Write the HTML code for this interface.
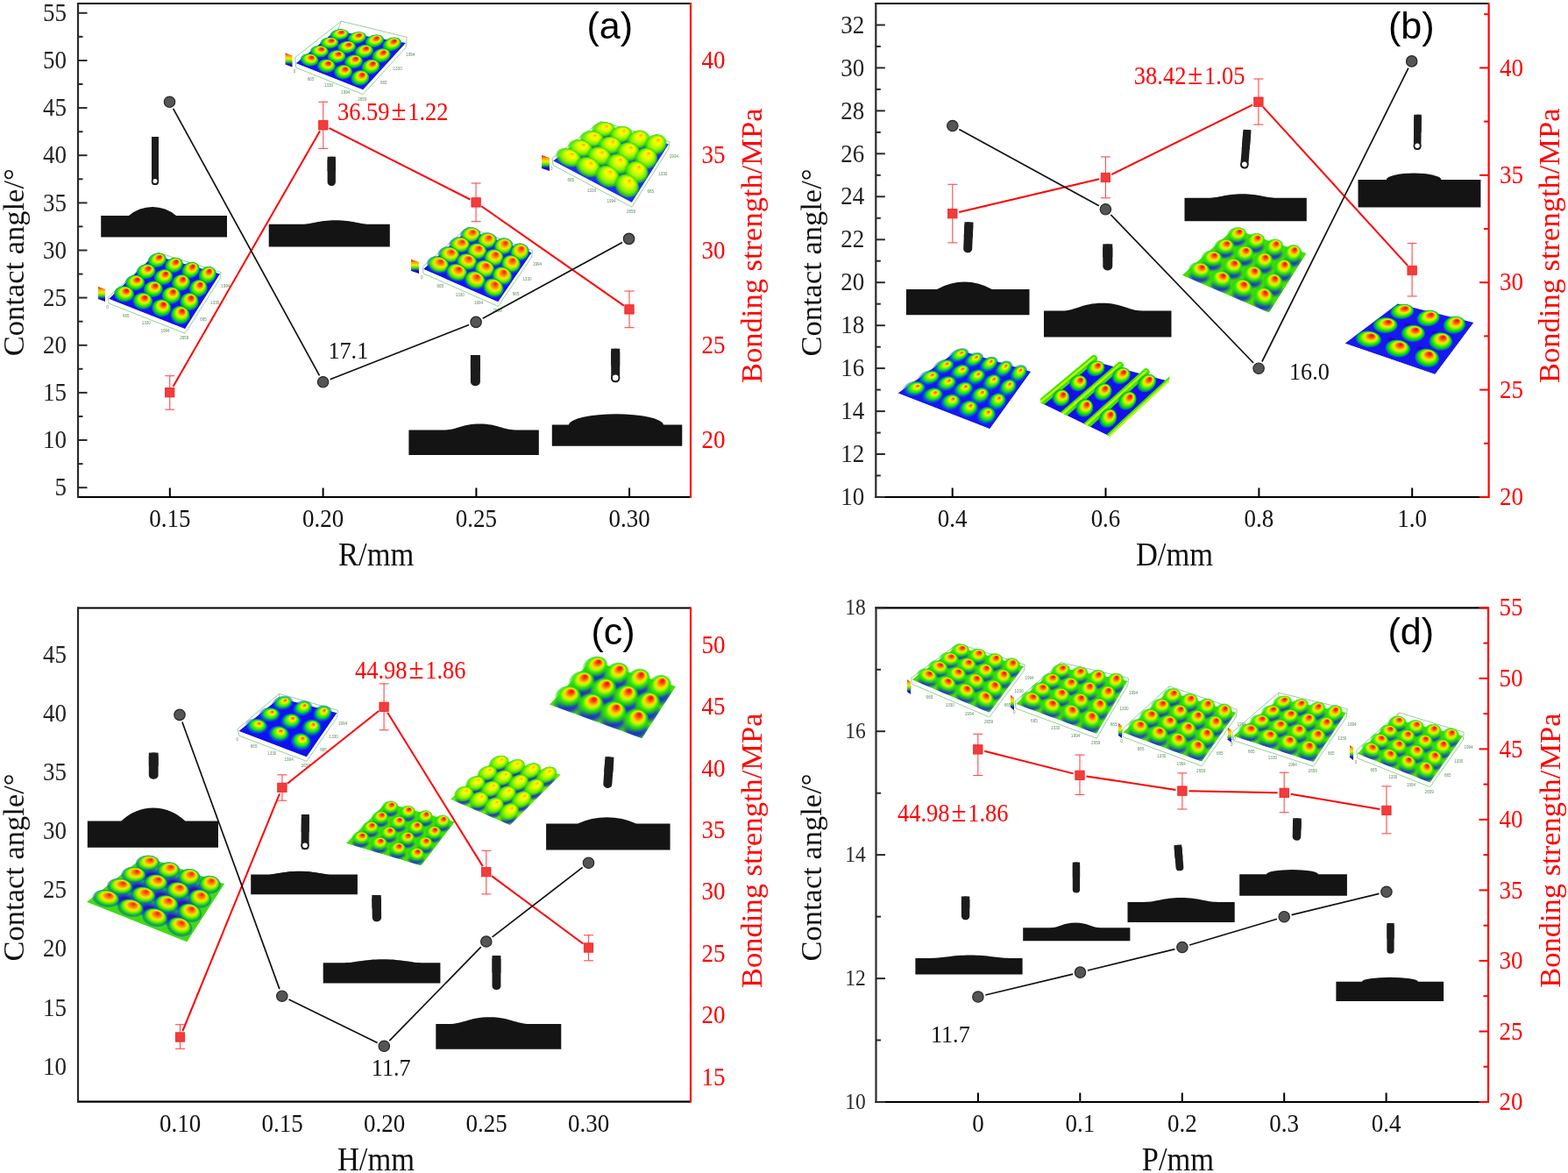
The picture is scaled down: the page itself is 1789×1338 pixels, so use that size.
<!DOCTYPE html>
<html><head><meta charset="utf-8"><title>Contact angle and bonding strength</title>
<style>html,body{margin:0;padding:0;background:#fff;overflow:hidden;}svg{display:block;}</style></head>
<body><svg width="1789" height="1338" viewBox="0 0 1789 1338">
<defs>
<radialGradient id="hR" cx="0.5" cy="0.5" r="0.5" fx="0.5" fy="0.2">
 <stop offset="0" stop-color="#e00a00"/>
 <stop offset="0.19" stop-color="#ff4000"/>
 <stop offset="0.31" stop-color="#ff9000"/>
 <stop offset="0.43" stop-color="#ffe000"/>
 <stop offset="0.54" stop-color="#b0f800"/>
 <stop offset="0.66" stop-color="#48ee00"/>
 <stop offset="0.79" stop-color="#00d410"/>
 <stop offset="0.91" stop-color="#0090a0" stop-opacity="0.7"/>
 <stop offset="1" stop-color="#0020ff" stop-opacity="0"/>
</radialGradient>
<radialGradient id="hY" cx="0.5" cy="0.5" r="0.5" fx="0.5" fy="0.22">
 <stop offset="0" stop-color="#ffa000"/>
 <stop offset="0.14" stop-color="#ffe400"/>
 <stop offset="0.30" stop-color="#f4ff00"/>
 <stop offset="0.50" stop-color="#c0f800"/>
 <stop offset="0.72" stop-color="#68ee00"/>
 <stop offset="0.88" stop-color="#30d800" stop-opacity="0.75"/>
 <stop offset="1" stop-color="#10c800" stop-opacity="0"/>
</radialGradient>
<radialGradient id="hB" cx="0.5" cy="0.5" r="0.5" fx="0.5" fy="0.25">
 <stop offset="0" stop-color="#ff3000"/>
 <stop offset="0.12" stop-color="#ff9a00"/>
 <stop offset="0.26" stop-color="#f8f800"/>
 <stop offset="0.42" stop-color="#70f400"/>
 <stop offset="0.60" stop-color="#00dc30"/>
 <stop offset="0.80" stop-color="#0070d0" stop-opacity="0.6"/>
 <stop offset="1" stop-color="#0000ff" stop-opacity="0"/>
</radialGradient>
<radialGradient id="hG" cx="0.5" cy="0.5" r="0.5" fx="0.5" fy="0.25">
 <stop offset="0" stop-color="#f0ff00"/>
 <stop offset="0.25" stop-color="#b0f800"/>
 <stop offset="0.50" stop-color="#50ee00"/>
 <stop offset="0.75" stop-color="#10d040" stop-opacity="0.7"/>
 <stop offset="1" stop-color="#0000ff" stop-opacity="0"/>
</radialGradient>
<radialGradient id="hO" cx="0.5" cy="0.5" r="0.5" fx="0.5" fy="0.22">
 <stop offset="0" stop-color="#e81800"/>
 <stop offset="0.18" stop-color="#ff5a00"/>
 <stop offset="0.32" stop-color="#ff9c00"/>
 <stop offset="0.46" stop-color="#ffe400"/>
 <stop offset="0.60" stop-color="#90f400"/>
 <stop offset="0.76" stop-color="#20d800"/>
 <stop offset="0.90" stop-color="#0060d0" stop-opacity="0.6"/>
 <stop offset="1" stop-color="#0020ff" stop-opacity="0"/>
</radialGradient>
<radialGradient id="hRg" cx="0.5" cy="0.5" r="0.5" fx="0.5" fy="0.2">
 <stop offset="0" stop-color="#e00a00"/>
 <stop offset="0.16" stop-color="#ff3c00"/>
 <stop offset="0.28" stop-color="#ff8c00"/>
 <stop offset="0.40" stop-color="#ffdc00"/>
 <stop offset="0.52" stop-color="#b8f800"/>
 <stop offset="0.64" stop-color="#48ee00"/>
 <stop offset="0.80" stop-color="#20d810" stop-opacity="0.75"/>
 <stop offset="1" stop-color="#10d010" stop-opacity="0"/>
</radialGradient>
<radialGradient id="vS" cx="0.5" cy="0.5" r="0.5">
 <stop offset="0" stop-color="#1000f0" stop-opacity="0.95"/>
 <stop offset="0.55" stop-color="#1818f0" stop-opacity="0.75"/>
 <stop offset="1" stop-color="#2020f0" stop-opacity="0"/>
</radialGradient>
<radialGradient id="vP" cx="0.5" cy="0.5" r="0.5">
 <stop offset="0" stop-color="#500070" stop-opacity="0.9"/>
 <stop offset="0.3" stop-color="#2000e0" stop-opacity="0.9"/>
 <stop offset="0.65" stop-color="#1020f0" stop-opacity="0.6"/>
 <stop offset="1" stop-color="#0000ff" stop-opacity="0"/>
</radialGradient>
<linearGradient id="cbar" x1="0" y1="0" x2="0" y2="1">
<stop offset="0" stop-color="#e00000"/><stop offset="0.2" stop-color="#ffa000"/><stop offset="0.4" stop-color="#f0f000"/>
<stop offset="0.6" stop-color="#40e000"/><stop offset="0.8" stop-color="#1010f0"/><stop offset="1" stop-color="#300040"/></linearGradient>
<radialGradient id="gHot" cx="0.5" cy="0.5" r="0.5" fx="0.5" fy="0.38">
 <stop offset="0" stop-color="#e00000"/>
 <stop offset="0.14" stop-color="#ff3a00"/>
 <stop offset="0.28" stop-color="#ff9a00"/>
 <stop offset="0.42" stop-color="#ffee00"/>
 <stop offset="0.58" stop-color="#9af000"/>
 <stop offset="0.74" stop-color="#22e020"/>
 <stop offset="0.88" stop-color="#00c890" stop-opacity="0.6"/>
 <stop offset="1" stop-color="#0030ff" stop-opacity="0"/>
</radialGradient>
<radialGradient id="gWarm" cx="0.5" cy="0.5" r="0.5" fx="0.5" fy="0.38">
 <stop offset="0" stop-color="#ff5000"/>
 <stop offset="0.18" stop-color="#ffb000"/>
 <stop offset="0.36" stop-color="#f0f000"/>
 <stop offset="0.56" stop-color="#a0f000"/>
 <stop offset="0.78" stop-color="#40e800"/>
 <stop offset="1" stop-color="#30e000" stop-opacity="0"/>
</radialGradient>
<radialGradient id="gGreen" cx="0.5" cy="0.5" r="0.5" fx="0.5" fy="0.38">
 <stop offset="0" stop-color="#ffe000"/>
 <stop offset="0.3" stop-color="#d0f000"/>
 <stop offset="0.6" stop-color="#70f000"/>
 <stop offset="1" stop-color="#40e000" stop-opacity="0"/>
</radialGradient>
<radialGradient id="gBlueBump" cx="0.5" cy="0.5" r="0.5" fx="0.5" fy="0.38">
 <stop offset="0" stop-color="#ff3000"/>
 <stop offset="0.15" stop-color="#ffa000"/>
 <stop offset="0.32" stop-color="#f0f000"/>
 <stop offset="0.5" stop-color="#60f000"/>
 <stop offset="0.7" stop-color="#10d040" stop-opacity="0.8"/>
 <stop offset="1" stop-color="#1020ff" stop-opacity="0"/>
</radialGradient>
<radialGradient id="gBlueBumpG" cx="0.5" cy="0.5" r="0.5" fx="0.5" fy="0.38">
 <stop offset="0" stop-color="#f0ff00"/>
 <stop offset="0.3" stop-color="#a0f000"/>
 <stop offset="0.6" stop-color="#30e020"/>
 <stop offset="1" stop-color="#1020ff" stop-opacity="0"/>
</radialGradient>
</defs>
<rect width="1789" height="1338" fill="#fff"/>
<line x1="88.0" y1="4.0" x2="788.0" y2="4.0" stroke="#000" stroke-width="2.2"/><line x1="88.0" y1="567.0" x2="788.0" y2="567.0" stroke="#000" stroke-width="2.2"/><line x1="89.0" y1="3.0" x2="89.0" y2="568.0" stroke="#2a2a2a" stroke-width="2.2"/><line x1="788.0" y1="3.0" x2="788.0" y2="568.0" stroke="#ff0000" stroke-width="2.2"/><line x1="89.0" y1="556.2" x2="99.5" y2="556.2" stroke="#2a2a2a" stroke-width="2"/><line x1="89.0" y1="502.0" x2="99.5" y2="502.0" stroke="#2a2a2a" stroke-width="2"/><line x1="89.0" y1="447.9" x2="99.5" y2="447.9" stroke="#2a2a2a" stroke-width="2"/><line x1="89.0" y1="393.8" x2="99.5" y2="393.8" stroke="#2a2a2a" stroke-width="2"/><line x1="89.0" y1="339.6" x2="99.5" y2="339.6" stroke="#2a2a2a" stroke-width="2"/><line x1="89.0" y1="285.5" x2="99.5" y2="285.5" stroke="#2a2a2a" stroke-width="2"/><line x1="89.0" y1="231.4" x2="99.5" y2="231.4" stroke="#2a2a2a" stroke-width="2"/><line x1="89.0" y1="177.2" x2="99.5" y2="177.2" stroke="#2a2a2a" stroke-width="2"/><line x1="89.0" y1="123.1" x2="99.5" y2="123.1" stroke="#2a2a2a" stroke-width="2"/><line x1="89.0" y1="69.0" x2="99.5" y2="69.0" stroke="#2a2a2a" stroke-width="2"/><line x1="89.0" y1="14.8" x2="99.5" y2="14.8" stroke="#2a2a2a" stroke-width="2"/><line x1="89.0" y1="529.1" x2="94.5" y2="529.1" stroke="#2a2a2a" stroke-width="2"/><line x1="89.0" y1="475.0" x2="94.5" y2="475.0" stroke="#2a2a2a" stroke-width="2"/><line x1="89.0" y1="420.8" x2="94.5" y2="420.8" stroke="#2a2a2a" stroke-width="2"/><line x1="89.0" y1="366.7" x2="94.5" y2="366.7" stroke="#2a2a2a" stroke-width="2"/><line x1="89.0" y1="312.6" x2="94.5" y2="312.6" stroke="#2a2a2a" stroke-width="2"/><line x1="89.0" y1="258.4" x2="94.5" y2="258.4" stroke="#2a2a2a" stroke-width="2"/><line x1="89.0" y1="204.3" x2="94.5" y2="204.3" stroke="#2a2a2a" stroke-width="2"/><line x1="89.0" y1="150.2" x2="94.5" y2="150.2" stroke="#2a2a2a" stroke-width="2"/><line x1="89.0" y1="96.0" x2="94.5" y2="96.0" stroke="#2a2a2a" stroke-width="2"/><line x1="89.0" y1="41.9" x2="94.5" y2="41.9" stroke="#2a2a2a" stroke-width="2"/><line x1="193.8" y1="567.0" x2="193.8" y2="556.5" stroke="#000" stroke-width="2"/><line x1="368.6" y1="567.0" x2="368.6" y2="556.5" stroke="#000" stroke-width="2"/><line x1="543.4" y1="567.0" x2="543.4" y2="556.5" stroke="#000" stroke-width="2"/><line x1="718.1" y1="567.0" x2="718.1" y2="556.5" stroke="#000" stroke-width="2"/><text transform="translate(76.0,565.3) scale(1,1.080)" font-family="'Liberation Serif','Times New Roman',serif" font-size="27.0" fill="#222222" text-anchor="end">5</text><text transform="translate(76.0,511.2) scale(1,1.080)" font-family="'Liberation Serif','Times New Roman',serif" font-size="27.0" fill="#222222" text-anchor="end">10</text><text transform="translate(76.0,457.0) scale(1,1.080)" font-family="'Liberation Serif','Times New Roman',serif" font-size="27.0" fill="#222222" text-anchor="end">15</text><text transform="translate(76.0,402.9) scale(1,1.080)" font-family="'Liberation Serif','Times New Roman',serif" font-size="27.0" fill="#222222" text-anchor="end">20</text><text transform="translate(76.0,348.8) scale(1,1.080)" font-family="'Liberation Serif','Times New Roman',serif" font-size="27.0" fill="#222222" text-anchor="end">25</text><text transform="translate(76.0,294.6) scale(1,1.080)" font-family="'Liberation Serif','Times New Roman',serif" font-size="27.0" fill="#222222" text-anchor="end">30</text><text transform="translate(76.0,240.5) scale(1,1.080)" font-family="'Liberation Serif','Times New Roman',serif" font-size="27.0" fill="#222222" text-anchor="end">35</text><text transform="translate(76.0,186.4) scale(1,1.080)" font-family="'Liberation Serif','Times New Roman',serif" font-size="27.0" fill="#222222" text-anchor="end">40</text><text transform="translate(76.0,132.2) scale(1,1.080)" font-family="'Liberation Serif','Times New Roman',serif" font-size="27.0" fill="#222222" text-anchor="end">45</text><text transform="translate(76.0,78.1) scale(1,1.080)" font-family="'Liberation Serif','Times New Roman',serif" font-size="27.0" fill="#222222" text-anchor="end">50</text><text transform="translate(76.0,24.0) scale(1,1.080)" font-family="'Liberation Serif','Times New Roman',serif" font-size="27.0" fill="#222222" text-anchor="end">55</text><text transform="translate(800.5,511.2) scale(1,1.080)" font-family="'Liberation Serif','Times New Roman',serif" font-size="27.0" fill="#ff0000" text-anchor="start">20</text><text transform="translate(800.5,402.9) scale(1,1.080)" font-family="'Liberation Serif','Times New Roman',serif" font-size="27.0" fill="#ff0000" text-anchor="start">25</text><text transform="translate(800.5,294.6) scale(1,1.080)" font-family="'Liberation Serif','Times New Roman',serif" font-size="27.0" fill="#ff0000" text-anchor="start">30</text><text transform="translate(800.5,186.4) scale(1,1.080)" font-family="'Liberation Serif','Times New Roman',serif" font-size="27.0" fill="#ff0000" text-anchor="start">35</text><text transform="translate(800.5,78.1) scale(1,1.080)" font-family="'Liberation Serif','Times New Roman',serif" font-size="27.0" fill="#ff0000" text-anchor="start">40</text><text transform="translate(193.8,601.0) scale(1,1.080)" font-family="'Liberation Serif','Times New Roman',serif" font-size="27.0" fill="#111" text-anchor="middle">0.15</text><text transform="translate(368.6,601.0) scale(1,1.080)" font-family="'Liberation Serif','Times New Roman',serif" font-size="27.0" fill="#111" text-anchor="middle">0.20</text><text transform="translate(543.4,601.0) scale(1,1.080)" font-family="'Liberation Serif','Times New Roman',serif" font-size="27.0" fill="#111" text-anchor="middle">0.25</text><text transform="translate(718.1,601.0) scale(1,1.080)" font-family="'Liberation Serif','Times New Roman',serif" font-size="27.0" fill="#111" text-anchor="middle">0.30</text><text transform="translate(429.2,645.0) scale(1,1.080)" font-family="'Liberation Serif','Times New Roman',serif" font-size="34.5" fill="#111" text-anchor="middle">R/mm</text><text transform="translate(27.0,299.2) rotate(-90)" font-family="'Liberation Serif','Times New Roman',serif" font-size="34.5" fill="#111" text-anchor="middle">Contact angle/°</text><text transform="translate(869.3,280.2) rotate(-90)" font-family="'Liberation Serif','Times New Roman',serif" font-size="34.5" fill="#ff0000" text-anchor="middle">Bonding strength/MPa</text><text transform="translate(669.5,44.0)" font-family="'Liberation Sans',Arial,sans-serif" font-size="43.0" fill="#000" text-anchor="start">(a)</text>
<line x1="998.3" y1="4.0" x2="1698.6" y2="4.0" stroke="#000" stroke-width="2.2"/><line x1="998.3" y1="567.0" x2="1698.6" y2="567.0" stroke="#000" stroke-width="2.2"/><line x1="999.3" y1="3.0" x2="999.3" y2="568.0" stroke="#2a2a2a" stroke-width="2.2"/><line x1="1698.6" y1="3.0" x2="1698.6" y2="568.0" stroke="#ff0000" stroke-width="2.2"/><line x1="999.3" y1="567.0" x2="1009.8" y2="567.0" stroke="#2a2a2a" stroke-width="2"/><line x1="999.3" y1="518.0" x2="1009.8" y2="518.0" stroke="#2a2a2a" stroke-width="2"/><line x1="999.3" y1="469.1" x2="1009.8" y2="469.1" stroke="#2a2a2a" stroke-width="2"/><line x1="999.3" y1="420.1" x2="1009.8" y2="420.1" stroke="#2a2a2a" stroke-width="2"/><line x1="999.3" y1="371.2" x2="1009.8" y2="371.2" stroke="#2a2a2a" stroke-width="2"/><line x1="999.3" y1="322.2" x2="1009.8" y2="322.2" stroke="#2a2a2a" stroke-width="2"/><line x1="999.3" y1="273.3" x2="1009.8" y2="273.3" stroke="#2a2a2a" stroke-width="2"/><line x1="999.3" y1="224.3" x2="1009.8" y2="224.3" stroke="#2a2a2a" stroke-width="2"/><line x1="999.3" y1="175.3" x2="1009.8" y2="175.3" stroke="#2a2a2a" stroke-width="2"/><line x1="999.3" y1="126.4" x2="1009.8" y2="126.4" stroke="#2a2a2a" stroke-width="2"/><line x1="999.3" y1="77.4" x2="1009.8" y2="77.4" stroke="#2a2a2a" stroke-width="2"/><line x1="999.3" y1="28.5" x2="1009.8" y2="28.5" stroke="#2a2a2a" stroke-width="2"/><line x1="999.3" y1="542.5" x2="1004.8" y2="542.5" stroke="#2a2a2a" stroke-width="2"/><line x1="999.3" y1="493.6" x2="1004.8" y2="493.6" stroke="#2a2a2a" stroke-width="2"/><line x1="999.3" y1="444.6" x2="1004.8" y2="444.6" stroke="#2a2a2a" stroke-width="2"/><line x1="999.3" y1="395.7" x2="1004.8" y2="395.7" stroke="#2a2a2a" stroke-width="2"/><line x1="999.3" y1="346.7" x2="1004.8" y2="346.7" stroke="#2a2a2a" stroke-width="2"/><line x1="999.3" y1="297.7" x2="1004.8" y2="297.7" stroke="#2a2a2a" stroke-width="2"/><line x1="999.3" y1="248.8" x2="1004.8" y2="248.8" stroke="#2a2a2a" stroke-width="2"/><line x1="999.3" y1="199.8" x2="1004.8" y2="199.8" stroke="#2a2a2a" stroke-width="2"/><line x1="999.3" y1="150.9" x2="1004.8" y2="150.9" stroke="#2a2a2a" stroke-width="2"/><line x1="999.3" y1="101.9" x2="1004.8" y2="101.9" stroke="#2a2a2a" stroke-width="2"/><line x1="999.3" y1="53.0" x2="1004.8" y2="53.0" stroke="#2a2a2a" stroke-width="2"/><line x1="1698.6" y1="567.0" x2="1688.1" y2="567.0" stroke="#ff0000" stroke-width="2"/><line x1="1698.6" y1="444.6" x2="1688.1" y2="444.6" stroke="#ff0000" stroke-width="2"/><line x1="1698.6" y1="322.2" x2="1688.1" y2="322.2" stroke="#ff0000" stroke-width="2"/><line x1="1698.6" y1="199.8" x2="1688.1" y2="199.8" stroke="#ff0000" stroke-width="2"/><line x1="1698.6" y1="77.4" x2="1688.1" y2="77.4" stroke="#ff0000" stroke-width="2"/><line x1="1698.6" y1="505.8" x2="1693.1" y2="505.8" stroke="#ff0000" stroke-width="2"/><line x1="1698.6" y1="383.4" x2="1693.1" y2="383.4" stroke="#ff0000" stroke-width="2"/><line x1="1698.6" y1="261.0" x2="1693.1" y2="261.0" stroke="#ff0000" stroke-width="2"/><line x1="1698.6" y1="138.6" x2="1693.1" y2="138.6" stroke="#ff0000" stroke-width="2"/><line x1="1698.6" y1="16.2" x2="1693.1" y2="16.2" stroke="#ff0000" stroke-width="2"/><line x1="1086.7" y1="567.0" x2="1086.7" y2="556.5" stroke="#000" stroke-width="2"/><line x1="1261.5" y1="567.0" x2="1261.5" y2="556.5" stroke="#000" stroke-width="2"/><line x1="1436.4" y1="567.0" x2="1436.4" y2="556.5" stroke="#000" stroke-width="2"/><line x1="1611.2" y1="567.0" x2="1611.2" y2="556.5" stroke="#000" stroke-width="2"/><text transform="translate(986.3,576.1) scale(1,1.080)" font-family="'Liberation Serif','Times New Roman',serif" font-size="27.0" fill="#222222" text-anchor="end">10</text><text transform="translate(986.3,527.2) scale(1,1.080)" font-family="'Liberation Serif','Times New Roman',serif" font-size="27.0" fill="#222222" text-anchor="end">12</text><text transform="translate(986.3,478.2) scale(1,1.080)" font-family="'Liberation Serif','Times New Roman',serif" font-size="27.0" fill="#222222" text-anchor="end">14</text><text transform="translate(986.3,429.3) scale(1,1.080)" font-family="'Liberation Serif','Times New Roman',serif" font-size="27.0" fill="#222222" text-anchor="end">16</text><text transform="translate(986.3,380.3) scale(1,1.080)" font-family="'Liberation Serif','Times New Roman',serif" font-size="27.0" fill="#222222" text-anchor="end">18</text><text transform="translate(986.3,331.3) scale(1,1.080)" font-family="'Liberation Serif','Times New Roman',serif" font-size="27.0" fill="#222222" text-anchor="end">20</text><text transform="translate(986.3,282.4) scale(1,1.080)" font-family="'Liberation Serif','Times New Roman',serif" font-size="27.0" fill="#222222" text-anchor="end">22</text><text transform="translate(986.3,233.4) scale(1,1.080)" font-family="'Liberation Serif','Times New Roman',serif" font-size="27.0" fill="#222222" text-anchor="end">24</text><text transform="translate(986.3,184.5) scale(1,1.080)" font-family="'Liberation Serif','Times New Roman',serif" font-size="27.0" fill="#222222" text-anchor="end">26</text><text transform="translate(986.3,135.5) scale(1,1.080)" font-family="'Liberation Serif','Times New Roman',serif" font-size="27.0" fill="#222222" text-anchor="end">28</text><text transform="translate(986.3,86.6) scale(1,1.080)" font-family="'Liberation Serif','Times New Roman',serif" font-size="27.0" fill="#222222" text-anchor="end">30</text><text transform="translate(986.3,37.6) scale(1,1.080)" font-family="'Liberation Serif','Times New Roman',serif" font-size="27.0" fill="#222222" text-anchor="end">32</text><text transform="translate(1711.1,576.1) scale(1,1.080)" font-family="'Liberation Serif','Times New Roman',serif" font-size="27.0" fill="#ff0000" text-anchor="start">20</text><text transform="translate(1711.1,453.7) scale(1,1.080)" font-family="'Liberation Serif','Times New Roman',serif" font-size="27.0" fill="#ff0000" text-anchor="start">25</text><text transform="translate(1711.1,331.3) scale(1,1.080)" font-family="'Liberation Serif','Times New Roman',serif" font-size="27.0" fill="#ff0000" text-anchor="start">30</text><text transform="translate(1711.1,209.0) scale(1,1.080)" font-family="'Liberation Serif','Times New Roman',serif" font-size="27.0" fill="#ff0000" text-anchor="start">35</text><text transform="translate(1711.1,86.6) scale(1,1.080)" font-family="'Liberation Serif','Times New Roman',serif" font-size="27.0" fill="#ff0000" text-anchor="start">40</text><text transform="translate(1086.7,601.0) scale(1,1.080)" font-family="'Liberation Serif','Times New Roman',serif" font-size="27.0" fill="#111" text-anchor="middle">0.4</text><text transform="translate(1261.5,601.0) scale(1,1.080)" font-family="'Liberation Serif','Times New Roman',serif" font-size="27.0" fill="#111" text-anchor="middle">0.6</text><text transform="translate(1436.4,601.0) scale(1,1.080)" font-family="'Liberation Serif','Times New Roman',serif" font-size="27.0" fill="#111" text-anchor="middle">0.8</text><text transform="translate(1611.2,601.0) scale(1,1.080)" font-family="'Liberation Serif','Times New Roman',serif" font-size="27.0" fill="#111" text-anchor="middle">1.0</text><text transform="translate(1340.0,645.0) scale(1,1.080)" font-family="'Liberation Serif','Times New Roman',serif" font-size="34.5" fill="#111" text-anchor="middle">D/mm</text><text transform="translate(936.5,299.5) rotate(-90)" font-family="'Liberation Serif','Times New Roman',serif" font-size="34.5" fill="#111" text-anchor="middle">Contact angle/°</text><text transform="translate(1779.3,280.2) rotate(-90)" font-family="'Liberation Serif','Times New Roman',serif" font-size="34.5" fill="#ff0000" text-anchor="middle">Bonding strength/MPa</text><text transform="translate(1584.0,44.0)" font-family="'Liberation Sans',Arial,sans-serif" font-size="43.0" fill="#000" text-anchor="start">(b)</text>
<line x1="88.0" y1="693.5" x2="788.0" y2="693.5" stroke="#000" stroke-width="2.2"/><line x1="88.0" y1="1256.6" x2="788.0" y2="1256.6" stroke="#000" stroke-width="2.2"/><line x1="89.0" y1="692.5" x2="89.0" y2="1257.6" stroke="#2a2a2a" stroke-width="2.2"/><line x1="788.0" y1="692.5" x2="788.0" y2="1257.6" stroke="#ff0000" stroke-width="2.2"/><text transform="translate(76.0,1225.5) scale(1,1.080)" font-family="'Liberation Serif','Times New Roman',serif" font-size="27.0" fill="#222222" text-anchor="end">10</text><text transform="translate(76.0,1158.5) scale(1,1.080)" font-family="'Liberation Serif','Times New Roman',serif" font-size="27.0" fill="#222222" text-anchor="end">15</text><text transform="translate(76.0,1091.4) scale(1,1.080)" font-family="'Liberation Serif','Times New Roman',serif" font-size="27.0" fill="#222222" text-anchor="end">20</text><text transform="translate(76.0,1024.4) scale(1,1.080)" font-family="'Liberation Serif','Times New Roman',serif" font-size="27.0" fill="#222222" text-anchor="end">25</text><text transform="translate(76.0,957.4) scale(1,1.080)" font-family="'Liberation Serif','Times New Roman',serif" font-size="27.0" fill="#222222" text-anchor="end">30</text><text transform="translate(76.0,890.3) scale(1,1.080)" font-family="'Liberation Serif','Times New Roman',serif" font-size="27.0" fill="#222222" text-anchor="end">35</text><text transform="translate(76.0,823.3) scale(1,1.080)" font-family="'Liberation Serif','Times New Roman',serif" font-size="27.0" fill="#222222" text-anchor="end">40</text><text transform="translate(76.0,756.3) scale(1,1.080)" font-family="'Liberation Serif','Times New Roman',serif" font-size="27.0" fill="#222222" text-anchor="end">45</text><text transform="translate(800.5,1237.6) scale(1,1.080)" font-family="'Liberation Serif','Times New Roman',serif" font-size="27.0" fill="#ff0000" text-anchor="start">15</text><text transform="translate(800.5,1167.2) scale(1,1.080)" font-family="'Liberation Serif','Times New Roman',serif" font-size="27.0" fill="#ff0000" text-anchor="start">20</text><text transform="translate(800.5,1096.8) scale(1,1.080)" font-family="'Liberation Serif','Times New Roman',serif" font-size="27.0" fill="#ff0000" text-anchor="start">25</text><text transform="translate(800.5,1026.4) scale(1,1.080)" font-family="'Liberation Serif','Times New Roman',serif" font-size="27.0" fill="#ff0000" text-anchor="start">30</text><text transform="translate(800.5,956.0) scale(1,1.080)" font-family="'Liberation Serif','Times New Roman',serif" font-size="27.0" fill="#ff0000" text-anchor="start">35</text><text transform="translate(800.5,885.6) scale(1,1.080)" font-family="'Liberation Serif','Times New Roman',serif" font-size="27.0" fill="#ff0000" text-anchor="start">40</text><text transform="translate(800.5,815.2) scale(1,1.080)" font-family="'Liberation Serif','Times New Roman',serif" font-size="27.0" fill="#ff0000" text-anchor="start">45</text><text transform="translate(800.5,744.9) scale(1,1.080)" font-family="'Liberation Serif','Times New Roman',serif" font-size="27.0" fill="#ff0000" text-anchor="start">50</text><text transform="translate(205.5,1290.6) scale(1,1.080)" font-family="'Liberation Serif','Times New Roman',serif" font-size="27.0" fill="#111" text-anchor="middle">0.10</text><text transform="translate(322.0,1290.6) scale(1,1.080)" font-family="'Liberation Serif','Times New Roman',serif" font-size="27.0" fill="#111" text-anchor="middle">0.15</text><text transform="translate(438.5,1290.6) scale(1,1.080)" font-family="'Liberation Serif','Times New Roman',serif" font-size="27.0" fill="#111" text-anchor="middle">0.20</text><text transform="translate(555.0,1290.6) scale(1,1.080)" font-family="'Liberation Serif','Times New Roman',serif" font-size="27.0" fill="#111" text-anchor="middle">0.25</text><text transform="translate(671.5,1290.6) scale(1,1.080)" font-family="'Liberation Serif','Times New Roman',serif" font-size="27.0" fill="#111" text-anchor="middle">0.30</text><text transform="translate(429.0,1334.6) scale(1,1.080)" font-family="'Liberation Serif','Times New Roman',serif" font-size="34.5" fill="#111" text-anchor="middle">H/mm</text><text transform="translate(27.0,989.4) rotate(-90)" font-family="'Liberation Serif','Times New Roman',serif" font-size="34.5" fill="#111" text-anchor="middle">Contact angle/°</text><text transform="translate(869.3,970.2) rotate(-90)" font-family="'Liberation Serif','Times New Roman',serif" font-size="34.5" fill="#ff0000" text-anchor="middle">Bonding strength/MPa</text><text transform="translate(674.5,735.0)" font-family="'Liberation Sans',Arial,sans-serif" font-size="43.0" fill="#000" text-anchor="start">(c)</text>
<line x1="998.5" y1="693.3" x2="1698.0" y2="693.3" stroke="#000" stroke-width="2.2"/><line x1="998.5" y1="1257.0" x2="1698.0" y2="1257.0" stroke="#000" stroke-width="2.2"/><line x1="999.5" y1="692.3" x2="999.5" y2="1258.0" stroke="#2a2a2a" stroke-width="2.2"/><line x1="1698.0" y1="692.3" x2="1698.0" y2="1258.0" stroke="#ff0000" stroke-width="2.2"/><line x1="999.5" y1="1257.0" x2="1010.0" y2="1257.0" stroke="#2a2a2a" stroke-width="2"/><line x1="999.5" y1="1116.1" x2="1010.0" y2="1116.1" stroke="#2a2a2a" stroke-width="2"/><line x1="999.5" y1="975.1" x2="1010.0" y2="975.1" stroke="#2a2a2a" stroke-width="2"/><line x1="999.5" y1="834.2" x2="1010.0" y2="834.2" stroke="#2a2a2a" stroke-width="2"/><line x1="999.5" y1="693.3" x2="1010.0" y2="693.3" stroke="#2a2a2a" stroke-width="2"/><line x1="999.5" y1="1186.5" x2="1005.0" y2="1186.5" stroke="#2a2a2a" stroke-width="2"/><line x1="999.5" y1="1045.6" x2="1005.0" y2="1045.6" stroke="#2a2a2a" stroke-width="2"/><line x1="999.5" y1="904.7" x2="1005.0" y2="904.7" stroke="#2a2a2a" stroke-width="2"/><line x1="999.5" y1="763.8" x2="1005.0" y2="763.8" stroke="#2a2a2a" stroke-width="2"/><line x1="1698.0" y1="1257.0" x2="1687.5" y2="1257.0" stroke="#ff0000" stroke-width="2"/><line x1="1698.0" y1="1176.5" x2="1687.5" y2="1176.5" stroke="#ff0000" stroke-width="2"/><line x1="1698.0" y1="1095.9" x2="1687.5" y2="1095.9" stroke="#ff0000" stroke-width="2"/><line x1="1698.0" y1="1015.4" x2="1687.5" y2="1015.4" stroke="#ff0000" stroke-width="2"/><line x1="1698.0" y1="934.9" x2="1687.5" y2="934.9" stroke="#ff0000" stroke-width="2"/><line x1="1698.0" y1="854.4" x2="1687.5" y2="854.4" stroke="#ff0000" stroke-width="2"/><line x1="1698.0" y1="773.8" x2="1687.5" y2="773.8" stroke="#ff0000" stroke-width="2"/><line x1="1698.0" y1="693.3" x2="1687.5" y2="693.3" stroke="#ff0000" stroke-width="2"/><line x1="1698.0" y1="1216.7" x2="1692.5" y2="1216.7" stroke="#ff0000" stroke-width="2"/><line x1="1698.0" y1="1136.2" x2="1692.5" y2="1136.2" stroke="#ff0000" stroke-width="2"/><line x1="1698.0" y1="1055.7" x2="1692.5" y2="1055.7" stroke="#ff0000" stroke-width="2"/><line x1="1698.0" y1="975.1" x2="1692.5" y2="975.1" stroke="#ff0000" stroke-width="2"/><line x1="1698.0" y1="894.6" x2="1692.5" y2="894.6" stroke="#ff0000" stroke-width="2"/><line x1="1698.0" y1="814.1" x2="1692.5" y2="814.1" stroke="#ff0000" stroke-width="2"/><line x1="1698.0" y1="733.6" x2="1692.5" y2="733.6" stroke="#ff0000" stroke-width="2"/><line x1="1115.9" y1="1257.0" x2="1115.9" y2="1246.5" stroke="#000" stroke-width="2"/><line x1="1232.3" y1="1257.0" x2="1232.3" y2="1246.5" stroke="#000" stroke-width="2"/><line x1="1348.8" y1="1257.0" x2="1348.8" y2="1246.5" stroke="#000" stroke-width="2"/><line x1="1465.2" y1="1257.0" x2="1465.2" y2="1246.5" stroke="#000" stroke-width="2"/><line x1="1581.6" y1="1257.0" x2="1581.6" y2="1246.5" stroke="#000" stroke-width="2"/><text transform="translate(987.7,1264.9) scale(1,1.080)" font-family="'Liberation Serif','Times New Roman',serif" font-size="23.5" fill="#2a2a2a" text-anchor="end">10</text><text transform="translate(987.7,1124.0) scale(1,1.080)" font-family="'Liberation Serif','Times New Roman',serif" font-size="23.5" fill="#2a2a2a" text-anchor="end">12</text><text transform="translate(987.7,983.1) scale(1,1.080)" font-family="'Liberation Serif','Times New Roman',serif" font-size="23.5" fill="#2a2a2a" text-anchor="end">14</text><text transform="translate(987.7,842.2) scale(1,1.080)" font-family="'Liberation Serif','Times New Roman',serif" font-size="23.5" fill="#2a2a2a" text-anchor="end">16</text><text transform="translate(987.7,701.2) scale(1,1.080)" font-family="'Liberation Serif','Times New Roman',serif" font-size="23.5" fill="#2a2a2a" text-anchor="end">18</text><text transform="translate(1710.5,1266.1) scale(1,1.080)" font-family="'Liberation Serif','Times New Roman',serif" font-size="27.0" fill="#ff0000" text-anchor="start">20</text><text transform="translate(1710.5,1185.6) scale(1,1.080)" font-family="'Liberation Serif','Times New Roman',serif" font-size="27.0" fill="#ff0000" text-anchor="start">25</text><text transform="translate(1710.5,1105.1) scale(1,1.080)" font-family="'Liberation Serif','Times New Roman',serif" font-size="27.0" fill="#ff0000" text-anchor="start">30</text><text transform="translate(1710.5,1024.5) scale(1,1.080)" font-family="'Liberation Serif','Times New Roman',serif" font-size="27.0" fill="#ff0000" text-anchor="start">35</text><text transform="translate(1710.5,944.0) scale(1,1.080)" font-family="'Liberation Serif','Times New Roman',serif" font-size="27.0" fill="#ff0000" text-anchor="start">40</text><text transform="translate(1710.5,863.5) scale(1,1.080)" font-family="'Liberation Serif','Times New Roman',serif" font-size="27.0" fill="#ff0000" text-anchor="start">45</text><text transform="translate(1710.5,783.0) scale(1,1.080)" font-family="'Liberation Serif','Times New Roman',serif" font-size="27.0" fill="#ff0000" text-anchor="start">50</text><text transform="translate(1710.5,702.4) scale(1,1.080)" font-family="'Liberation Serif','Times New Roman',serif" font-size="27.0" fill="#ff0000" text-anchor="start">55</text><text transform="translate(1115.9,1291.0) scale(1,1.080)" font-family="'Liberation Serif','Times New Roman',serif" font-size="27.0" fill="#111" text-anchor="middle">0</text><text transform="translate(1232.3,1291.0) scale(1,1.080)" font-family="'Liberation Serif','Times New Roman',serif" font-size="27.0" fill="#111" text-anchor="middle">0.1</text><text transform="translate(1348.8,1291.0) scale(1,1.080)" font-family="'Liberation Serif','Times New Roman',serif" font-size="27.0" fill="#111" text-anchor="middle">0.2</text><text transform="translate(1465.2,1291.0) scale(1,1.080)" font-family="'Liberation Serif','Times New Roman',serif" font-size="27.0" fill="#111" text-anchor="middle">0.3</text><text transform="translate(1581.6,1291.0) scale(1,1.080)" font-family="'Liberation Serif','Times New Roman',serif" font-size="27.0" fill="#111" text-anchor="middle">0.4</text><text transform="translate(1344.0,1335.0) scale(1,1.080)" font-family="'Liberation Serif','Times New Roman',serif" font-size="34.5" fill="#111" text-anchor="middle">P/mm</text><text transform="translate(936.5,989.5) rotate(-90)" font-family="'Liberation Serif','Times New Roman',serif" font-size="34.5" fill="#111" text-anchor="middle">Contact angle/°</text><text transform="translate(1779.9,970.1) rotate(-90)" font-family="'Liberation Serif','Times New Roman',serif" font-size="34.5" fill="#ff0000" text-anchor="middle">Bonding strength/MPa</text><text transform="translate(1583.5,735.0)" font-family="'Liberation Sans',Arial,sans-serif" font-size="43.0" fill="#000" text-anchor="start">(d)</text>
<g fill="none" stroke="#8cc88c" stroke-width="0.9"><polyline points="337.7,77.2 414.2,107.6 463.1,54.1"/><polyline points="336.7,65.5 389.4,24.2 464.1,42.4"/><line x1="336.7" y1="65.5" x2="337.7" y2="77.2"/><line x1="464.1" y1="42.4" x2="463.1" y2="54.1"/><line x1="389.4" y1="24.2" x2="382.9" y2="40.3"/></g><g font-family="Liberation Sans, Arial, sans-serif" font-size="4.6" fill="#5f8f5f"><text x="350.8" y="91.8">665</text><text x="369.9" y="99.4">1330</text><text x="389.1" y="107.0">1994</text><text x="408.2" y="114.6">2659</text><text x="433.9" y="95.5">665</text><text x="448.5" y="79.5">1330</text><text x="463.2" y="63.5">1994</text><text x="334.7" y="83.2">0</text></g><g><polygon points="325.5,60.5 333.5,63.5 333.5,76.5 325.5,73.5" fill="url(#cbar)"/></g><clipPath id="sc1"><polygon points="336.7,60.2 382.9,21.3 464.1,37.1 463.1,49.1 414.2,102.6 337.7,72.2"/></clipPath><g clip-path="url(#sc1)"><polygon points="382.9,35.3 463.1,49.1 414.2,102.6 337.7,72.2" fill="#1414f0"/><circle r="1" fill="url(#vP)" transform="matrix(7.93,1.79,-4.61,4.10,391.4,49.0)"/><circle r="1" fill="url(#vP)" transform="matrix(7.93,1.80,-4.70,4.52,411.2,53.5)"/><circle r="1" fill="url(#vP)" transform="matrix(7.93,1.80,-4.80,4.93,431.1,58.0)"/><circle r="1" fill="url(#vP)" transform="matrix(7.84,2.21,-4.61,4.10,379.9,59.3)"/><circle r="1" fill="url(#vP)" transform="matrix(7.83,2.21,-4.71,4.52,399.5,64.8)"/><circle r="1" fill="url(#vP)" transform="matrix(7.74,2.62,-4.61,4.11,368.4,69.5)"/><circle r="1" fill="url(#vP)" transform="matrix(7.83,2.21,-4.80,4.93,419.1,70.3)"/><circle r="1" fill="url(#vP)" transform="matrix(7.74,2.62,-4.70,4.52,387.7,76.1)"/><circle r="1" fill="url(#vP)" transform="matrix(7.74,2.62,-4.80,4.94,407.1,82.7)"/><circle r="1" fill="url(#hR)" transform="matrix(9.77,2.53,-5.59,6.21,387.2,39.6)"/><circle r="1" fill="url(#hR)" transform="matrix(9.77,2.53,-5.71,6.87,407.2,43.3)"/><circle r="1" fill="url(#hR)" transform="matrix(9.77,2.53,-5.82,7.53,427.1,47.1)"/><circle r="1" fill="url(#hR)" transform="matrix(9.65,3.19,-5.59,6.21,375.8,49.2)"/><circle r="1" fill="url(#hR)" transform="matrix(9.77,2.53,-5.93,8.19,447.0,50.8)"/><circle r="1" fill="url(#hR)" transform="matrix(9.65,3.19,-5.71,6.87,395.5,54.0)"/><circle r="1" fill="url(#hR)" transform="matrix(9.54,3.85,-5.59,6.21,364.4,58.9)"/><circle r="1" fill="url(#hR)" transform="matrix(9.65,3.19,-5.82,7.53,415.2,58.8)"/><circle r="1" fill="url(#hR)" transform="matrix(9.65,3.19,-5.93,8.19,434.9,63.6)"/><circle r="1" fill="url(#hR)" transform="matrix(9.54,3.85,-5.71,6.87,383.9,64.7)"/><circle r="1" fill="url(#hR)" transform="matrix(9.43,4.51,-5.59,6.21,353.0,68.5)"/><circle r="1" fill="url(#hR)" transform="matrix(9.54,3.85,-5.82,7.53,403.3,70.5)"/><circle r="1" fill="url(#hR)" transform="matrix(9.43,4.51,-5.71,6.87,372.2,75.4)"/><circle r="1" fill="url(#hR)" transform="matrix(9.54,3.85,-5.93,8.19,422.8,76.4)"/><circle r="1" fill="url(#hR)" transform="matrix(9.43,4.51,-5.82,7.53,391.5,82.3)"/><circle r="1" fill="url(#hR)" transform="matrix(9.43,4.51,-5.93,8.19,410.7,89.1)"/></g><g fill="none" stroke="#8cc88c" stroke-width="0.9"><polyline points="124.2,346.1 211.2,380.3 251.1,317.6"/><polyline points="123.2,339.2 180.0,288.0 252.1,310.7"/><line x1="123.2" y1="339.2" x2="124.2" y2="346.1"/><line x1="252.1" y1="310.7" x2="251.1" y2="317.6"/><line x1="180.0" y1="288.0" x2="176.0" y2="296.2"/></g><g font-family="Liberation Sans, Arial, sans-serif" font-size="4.6" fill="#5f8f5f"><text x="139.9" y="361.7">665</text><text x="161.7" y="370.2">1330</text><text x="183.4" y="378.8">1994</text><text x="205.2" y="387.3">2659</text><text x="228.2" y="365.5">665</text><text x="240.1" y="346.7">1330</text><text x="252.1" y="327.9">1994</text><text x="121.2" y="352.1">0</text></g><g><polygon points="112.0,327.0 120.0,330.0 120.0,344.0 112.0,341.0" fill="url(#cbar)"/></g><clipPath id="sc2"><polygon points="123.2,329.1 176.0,277.2 252.1,300.6 251.1,312.6 211.2,375.3 124.2,341.1"/></clipPath><g clip-path="url(#sc2)"><polygon points="176.0,291.2 251.1,312.6 211.2,375.3 124.2,341.1" fill="#1414f0"/><circle r="1" fill="url(#vP)" transform="matrix(7.81,2.46,-4.88,5.31,182.6,309.8)"/><circle r="1" fill="url(#vP)" transform="matrix(7.81,2.46,-4.59,5.63,202.1,316.0)"/><circle r="1" fill="url(#vP)" transform="matrix(7.81,2.46,-4.29,5.95,221.6,322.1)"/><circle r="1" fill="url(#vP)" transform="matrix(8.10,2.78,-4.88,5.31,170.4,323.1)"/><circle r="1" fill="url(#vP)" transform="matrix(8.10,2.78,-4.59,5.63,190.6,330.0)"/><circle r="1" fill="url(#vP)" transform="matrix(8.40,3.10,-4.88,5.31,158.2,336.4)"/><circle r="1" fill="url(#vP)" transform="matrix(8.11,2.78,-4.29,5.95,210.9,337.0)"/><circle r="1" fill="url(#vP)" transform="matrix(8.40,3.10,-4.58,5.63,179.2,344.1)"/><circle r="1" fill="url(#vP)" transform="matrix(8.40,3.10,-4.29,5.95,200.2,351.9)"/><circle r="1" fill="url(#hR)" transform="matrix(9.38,3.66,-6.16,8.20,179.1,297.2)"/><circle r="1" fill="url(#hR)" transform="matrix(9.38,3.66,-5.80,8.71,198.2,302.8)"/><circle r="1" fill="url(#hR)" transform="matrix(9.38,3.66,-5.43,9.22,217.4,308.4)"/><circle r="1" fill="url(#hR)" transform="matrix(9.75,4.17,-6.16,8.20,166.5,310.0)"/><circle r="1" fill="url(#hR)" transform="matrix(9.38,3.66,-5.07,9.73,236.5,314.0)"/><circle r="1" fill="url(#hR)" transform="matrix(9.75,4.17,-5.80,8.71,186.4,316.4)"/><circle r="1" fill="url(#hR)" transform="matrix(10.11,4.68,-6.16,8.20,153.9,322.8)"/><circle r="1" fill="url(#hR)" transform="matrix(9.75,4.17,-5.43,9.22,206.3,322.8)"/><circle r="1" fill="url(#hR)" transform="matrix(9.75,4.17,-5.07,9.73,226.2,329.2)"/><circle r="1" fill="url(#hR)" transform="matrix(10.11,4.68,-5.80,8.71,174.6,330.0)"/><circle r="1" fill="url(#hR)" transform="matrix(10.48,5.19,-6.16,8.20,141.4,335.6)"/><circle r="1" fill="url(#hR)" transform="matrix(10.11,4.68,-5.43,9.22,195.2,337.2)"/><circle r="1" fill="url(#hR)" transform="matrix(10.48,5.19,-5.80,8.71,162.7,343.6)"/><circle r="1" fill="url(#hR)" transform="matrix(10.11,4.68,-5.07,9.73,215.8,344.4)"/><circle r="1" fill="url(#hR)" transform="matrix(10.48,5.19,-5.43,9.22,184.1,351.6)"/><circle r="1" fill="url(#hR)" transform="matrix(10.48,5.19,-5.07,9.73,205.5,359.6)"/></g><g fill="none" stroke="#8cc88c" stroke-width="0.9"><polyline points="631.0,188.4 720.9,236.1 763.0,169.6"/><polyline points="630.0,180.6 685.3,138.4 764.0,161.8"/><line x1="630.0" y1="180.6" x2="631.0" y2="188.4"/><line x1="764.0" y1="161.8" x2="763.0" y2="169.6"/><line x1="685.3" y1="138.4" x2="685.3" y2="148.1"/></g><g font-family="Liberation Sans, Arial, sans-serif" font-size="4.6" fill="#5f8f5f"><text x="647.5" y="207.3">665</text><text x="670.0" y="219.2">1330</text><text x="692.4" y="231.2">1994</text><text x="714.9" y="243.1">2659</text><text x="738.5" y="220.2">665</text><text x="751.2" y="200.2">1330</text><text x="763.8" y="180.2">1994</text><text x="628.0" y="194.4">0</text></g><g><polygon points="618.0,177.0 627.0,180.0 627.0,195.0 618.0,192.0" fill="url(#cbar)"/></g><clipPath id="sc3"><polygon points="630.0,171.4 685.3,129.1 764.0,152.6 763.0,164.6 720.9,231.1 631.0,183.4"/></clipPath><g clip-path="url(#sc3)"><polygon points="685.3,143.1 763.0,164.6 720.9,231.1 631.0,183.4" fill="#1a30f0"/><circle r="1" fill="url(#vP)" transform="matrix(3.03,1.05,-1.92,1.76,691.9,160.2)"/><circle r="1" fill="url(#vP)" transform="matrix(3.03,1.05,-1.81,2.00,712.1,167.2)"/><circle r="1" fill="url(#vP)" transform="matrix(3.14,1.30,-1.92,1.76,679.1,171.9)"/><circle r="1" fill="url(#vP)" transform="matrix(3.03,1.05,-1.69,2.25,732.3,174.2)"/><circle r="1" fill="url(#vP)" transform="matrix(3.14,1.30,-1.81,2.00,700.0,180.5)"/><circle r="1" fill="url(#vP)" transform="matrix(3.26,1.54,-1.92,1.76,666.3,183.6)"/><circle r="1" fill="url(#vP)" transform="matrix(3.14,1.30,-1.69,2.25,721.0,189.2)"/><circle r="1" fill="url(#vP)" transform="matrix(3.26,1.54,-1.81,2.00,688.0,193.9)"/><circle r="1" fill="url(#vP)" transform="matrix(3.26,1.54,-1.69,2.25,709.7,204.2)"/><circle r="1" fill="url(#hY)" transform="matrix(11.69,4.57,-7.78,8.03,688.4,147.9)"/><circle r="1" fill="url(#hY)" transform="matrix(11.69,4.57,-7.33,9.24,708.2,153.7)"/><circle r="1" fill="url(#hY)" transform="matrix(12.14,5.78,-7.78,8.03,675.2,158.6)"/><circle r="1" fill="url(#hY)" transform="matrix(11.69,4.57,-6.88,10.45,728.0,159.5)"/><circle r="1" fill="url(#hY)" transform="matrix(11.69,4.57,-6.43,11.66,747.8,165.3)"/><circle r="1" fill="url(#hY)" transform="matrix(12.14,5.78,-7.33,9.24,695.8,166.0)"/><circle r="1" fill="url(#hY)" transform="matrix(12.59,6.98,-7.78,8.03,662.0,169.2)"/><circle r="1" fill="url(#hY)" transform="matrix(12.14,5.78,-6.88,10.45,716.4,173.5)"/><circle r="1" fill="url(#hY)" transform="matrix(12.59,6.98,-7.33,9.24,683.4,178.3)"/><circle r="1" fill="url(#hY)" transform="matrix(13.04,8.19,-7.78,8.03,648.8,179.8)"/><circle r="1" fill="url(#hY)" transform="matrix(12.14,5.78,-6.43,11.66,736.9,180.9)"/><circle r="1" fill="url(#hY)" transform="matrix(12.59,6.98,-6.88,10.45,704.7,187.4)"/><circle r="1" fill="url(#hY)" transform="matrix(13.04,8.19,-7.33,9.24,670.9,190.6)"/><circle r="1" fill="url(#hY)" transform="matrix(12.59,6.98,-6.43,11.66,726.0,196.5)"/><circle r="1" fill="url(#hY)" transform="matrix(13.04,8.19,-6.88,10.45,693.0,201.3)"/><circle r="1" fill="url(#hY)" transform="matrix(13.04,8.19,-6.43,11.66,715.1,212.1)"/></g><g fill="none" stroke="#8cc88c" stroke-width="0.9"><polyline points="483.1,312.0 568.3,349.4 606.7,293.2"/><polyline points="482.1,304.6 533.7,259.0 607.7,285.8"/><line x1="482.1" y1="304.6" x2="483.1" y2="312.0"/><line x1="607.7" y1="285.8" x2="606.7" y2="293.2"/><line x1="533.7" y1="259.0" x2="533.7" y2="268.0"/></g><g font-family="Liberation Sans, Arial, sans-serif" font-size="4.6" fill="#5f8f5f"><text x="498.4" y="328.4">665</text><text x="519.7" y="337.7">1330</text><text x="541.0" y="347.0">1994</text><text x="562.3" y="356.4">2659</text><text x="584.8" y="336.5">665</text><text x="596.3" y="319.7">1330</text><text x="607.9" y="302.8">1994</text><text x="480.1" y="318.0">0</text></g><g><polygon points="469.0,296.0 478.0,299.0 478.0,312.0 469.0,309.0" fill="url(#cbar)"/></g><clipPath id="sc4"><polygon points="482.1,295.0 533.7,249.0 607.7,276.2 606.7,288.2 568.3,344.4 483.1,307.0"/></clipPath><g clip-path="url(#sc4)"><polygon points="533.7,263.0 606.7,288.2 568.3,344.4 483.1,307.0" fill="#1414f0"/><circle r="1" fill="url(#vP)" transform="matrix(7.61,2.82,-4.75,4.70,540.1,281.1)"/><circle r="1" fill="url(#vP)" transform="matrix(7.61,2.82,-4.45,5.01,559.1,288.1)"/><circle r="1" fill="url(#vP)" transform="matrix(7.91,3.13,-4.75,4.70,528.2,292.8)"/><circle r="1" fill="url(#vP)" transform="matrix(7.60,2.82,-4.15,5.31,578.1,295.2)"/><circle r="1" fill="url(#vP)" transform="matrix(7.91,3.13,-4.45,5.01,548.0,300.6)"/><circle r="1" fill="url(#vP)" transform="matrix(8.21,3.44,-4.75,4.70,516.3,304.6)"/><circle r="1" fill="url(#vP)" transform="matrix(7.91,3.13,-4.14,5.31,567.7,308.5)"/><circle r="1" fill="url(#vP)" transform="matrix(8.21,3.44,-4.45,5.01,536.8,313.2)"/><circle r="1" fill="url(#vP)" transform="matrix(8.22,3.44,-4.14,5.31,557.4,321.8)"/><circle r="1" fill="url(#hO)" transform="matrix(10.43,4.86,-6.87,8.29,536.7,268.5)"/><circle r="1" fill="url(#hO)" transform="matrix(10.43,4.86,-6.44,8.84,555.3,275.0)"/><circle r="1" fill="url(#hO)" transform="matrix(10.86,5.42,-6.87,8.29,524.4,279.8)"/><circle r="1" fill="url(#hO)" transform="matrix(10.43,4.86,-6.02,9.40,574.0,281.5)"/><circle r="1" fill="url(#hO)" transform="matrix(10.86,5.42,-6.44,8.84,543.8,287.1)"/><circle r="1" fill="url(#hO)" transform="matrix(10.43,4.86,-5.59,9.95,592.6,288.1)"/><circle r="1" fill="url(#hO)" transform="matrix(11.29,5.97,-6.87,8.29,512.2,291.1)"/><circle r="1" fill="url(#hO)" transform="matrix(10.86,5.42,-6.02,9.40,563.2,294.4)"/><circle r="1" fill="url(#hO)" transform="matrix(11.29,5.97,-6.44,8.84,532.3,299.1)"/><circle r="1" fill="url(#hO)" transform="matrix(10.86,5.42,-5.59,9.95,582.6,301.6)"/><circle r="1" fill="url(#hO)" transform="matrix(11.71,6.53,-6.87,8.29,499.9,302.3)"/><circle r="1" fill="url(#hO)" transform="matrix(11.29,5.97,-6.02,9.40,552.5,307.2)"/><circle r="1" fill="url(#hO)" transform="matrix(11.71,6.53,-6.44,8.84,520.8,311.1)"/><circle r="1" fill="url(#hO)" transform="matrix(11.29,5.97,-5.59,9.95,572.6,315.2)"/><circle r="1" fill="url(#hO)" transform="matrix(11.71,6.53,-6.02,9.40,541.7,320.0)"/><circle r="1" fill="url(#hO)" transform="matrix(11.71,6.53,-5.59,9.95,562.6,328.8)"/></g><clipPath id="sc5"><polygon points="1023.5,436.5 1093.6,385.2 1177.2,411.9 1176.2,423.9 1129.3,489.2 1024.5,448.5"/></clipPath><g clip-path="url(#sc5)"><polygon points="1093.6,399.2 1176.2,423.9 1129.3,489.2 1024.5,448.5" fill="#1818f0"/><circle r="1" fill="url(#vP)" transform="matrix(4.41,1.44,-4.04,3.28,1094.0,417.3)"/><circle r="1" fill="url(#vP)" transform="matrix(4.41,1.44,-3.76,3.48,1111.6,423.0)"/><circle r="1" fill="url(#vP)" transform="matrix(4.41,1.43,-3.49,3.68,1129.2,428.7)"/><circle r="1" fill="url(#vP)" transform="matrix(4.68,1.63,-4.04,3.28,1077.8,430.4)"/><circle r="1" fill="url(#vP)" transform="matrix(4.41,1.43,-3.21,3.88,1146.8,434.5)"/><circle r="1" fill="url(#vP)" transform="matrix(4.68,1.63,-3.76,3.48,1096.5,436.9)"/><circle r="1" fill="url(#vP)" transform="matrix(4.68,1.64,-3.49,3.68,1115.3,443.5)"/><circle r="1" fill="url(#vP)" transform="matrix(4.96,1.83,-4.04,3.28,1061.6,443.5)"/><circle r="1" fill="url(#vP)" transform="matrix(4.68,1.64,-3.21,3.88,1134.0,450.0)"/><circle r="1" fill="url(#vP)" transform="matrix(4.96,1.84,-3.76,3.48,1081.5,450.9)"/><circle r="1" fill="url(#vP)" transform="matrix(4.96,1.84,-3.49,3.68,1101.3,458.2)"/><circle r="1" fill="url(#vP)" transform="matrix(4.96,1.83,-3.21,3.88,1121.2,465.5)"/><circle r="1" fill="url(#hB)" transform="matrix(8.96,3.50,-8.78,8.35,1093.5,405.9)"/><circle r="1" fill="url(#hB)" transform="matrix(8.96,3.50,-8.20,8.88,1110.6,411.1)"/><circle r="1" fill="url(#hB)" transform="matrix(8.96,3.50,-7.61,9.40,1127.6,416.3)"/><circle r="1" fill="url(#hB)" transform="matrix(9.55,4.03,-8.78,8.35,1076.8,418.5)"/><circle r="1" fill="url(#hB)" transform="matrix(8.96,3.50,-7.03,9.93,1144.7,421.5)"/><circle r="1" fill="url(#hB)" transform="matrix(9.55,4.03,-8.20,8.88,1095.0,424.6)"/><circle r="1" fill="url(#hB)" transform="matrix(8.96,3.50,-6.45,10.45,1161.8,426.7)"/><circle r="1" fill="url(#hB)" transform="matrix(9.55,4.03,-7.61,9.40,1113.2,430.6)"/><circle r="1" fill="url(#hB)" transform="matrix(10.13,4.55,-8.78,8.35,1060.1,431.2)"/><circle r="1" fill="url(#hB)" transform="matrix(9.55,4.03,-7.03,9.93,1131.3,436.6)"/><circle r="1" fill="url(#hB)" transform="matrix(10.13,4.55,-8.20,8.88,1079.4,438.0)"/><circle r="1" fill="url(#hB)" transform="matrix(9.55,4.03,-6.45,10.45,1149.5,442.6)"/><circle r="1" fill="url(#hB)" transform="matrix(10.71,5.08,-8.78,8.35,1043.3,443.9)"/><circle r="1" fill="url(#hB)" transform="matrix(10.13,4.55,-7.61,9.40,1098.7,444.9)"/><circle r="1" fill="url(#hB)" transform="matrix(10.71,5.08,-8.20,8.88,1063.7,451.5)"/><circle r="1" fill="url(#hB)" transform="matrix(10.13,4.55,-7.03,9.93,1117.9,451.7)"/><circle r="1" fill="url(#hB)" transform="matrix(10.13,4.55,-6.45,10.45,1137.2,458.5)"/><circle r="1" fill="url(#hB)" transform="matrix(10.71,5.08,-7.61,9.40,1084.2,459.1)"/><circle r="1" fill="url(#hB)" transform="matrix(10.71,5.08,-7.03,9.93,1104.6,466.8)"/><circle r="1" fill="url(#hB)" transform="matrix(10.71,5.08,-6.45,10.45,1125.0,474.4)"/></g><clipPath id="sc6"><polygon points="1186.3,447.6 1245.2,397.5 1335.0,423.0 1334.0,435.0 1266.2,497.8 1187.3,459.6"/></clipPath><g clip-path="url(#sc6)"><polygon points="1245.2,411.5 1334.0,435.0 1266.2,497.8 1187.3,459.6" fill="#1410e8"/><circle r="1" fill="url(#vP)" transform="matrix(8.55,2.84,-6.12,5.30,1254.4,437.0)"/><circle r="1" fill="url(#vP)" transform="matrix(8.55,2.84,-6.45,5.79,1282.9,446.5)"/><circle r="1" fill="url(#vP)" transform="matrix(8.22,3.33,-6.12,5.30,1234.0,454.7)"/><circle r="1" fill="url(#vP)" transform="matrix(8.22,3.33,-6.45,5.79,1261.4,465.8)"/><line x1="1248.1" y1="409.1" x2="1184.4" y2="462.0" stroke="#38e800" stroke-width="8.0" stroke-linecap="round"/><line x1="1277.9" y1="416.7" x2="1210.5" y2="475.0" stroke="#38e800" stroke-width="8.0" stroke-linecap="round"/><line x1="1307.6" y1="424.3" x2="1236.7" y2="488.0" stroke="#38e800" stroke-width="8.0" stroke-linecap="round"/><line x1="1337.4" y1="431.9" x2="1262.8" y2="500.9" stroke="#38e800" stroke-width="8.0" stroke-linecap="round"/><line x1="1248.1" y1="408.1" x2="1184.4" y2="461.0" stroke="#c8ff00" stroke-width="2.4" stroke-linecap="round"/><line x1="1277.9" y1="415.7" x2="1210.5" y2="474.0" stroke="#c8ff00" stroke-width="2.4" stroke-linecap="round"/><line x1="1307.6" y1="423.3" x2="1236.7" y2="487.0" stroke="#c8ff00" stroke-width="2.4" stroke-linecap="round"/><line x1="1337.4" y1="430.9" x2="1262.8" y2="499.9" stroke="#c8ff00" stroke-width="2.4" stroke-linecap="round"/><circle r="1" fill="url(#hR)" transform="matrix(9.01,4.29,-6.15,8.36,1250.1,420.6)"/><circle r="1" fill="url(#hR)" transform="matrix(9.01,4.29,-6.49,9.17,1279.1,429.0)"/><circle r="1" fill="url(#hR)" transform="matrix(8.66,5.10,-6.15,8.36,1230.2,437.3)"/><circle r="1" fill="url(#hR)" transform="matrix(9.01,4.29,-6.84,9.98,1308.2,437.4)"/><circle r="1" fill="url(#hR)" transform="matrix(8.66,5.10,-6.49,9.17,1258.2,447.4)"/><circle r="1" fill="url(#hR)" transform="matrix(8.32,5.91,-6.15,8.36,1210.4,454.0)"/><circle r="1" fill="url(#hR)" transform="matrix(8.66,5.10,-6.84,9.98,1286.1,457.4)"/><circle r="1" fill="url(#hR)" transform="matrix(8.32,5.91,-6.49,9.17,1237.2,465.7)"/><circle r="1" fill="url(#hR)" transform="matrix(8.32,5.91,-6.84,9.98,1264.1,477.4)"/></g><clipPath id="sc7"><polygon points="1347.8,302.0 1407.8,247.3 1491.6,276.9 1490.6,288.9 1448.0,356.7 1348.8,314.0"/></clipPath><g clip-path="url(#sc7)"><polygon points="1407.8,261.3 1490.6,288.9 1448.0,356.7 1348.8,314.0" fill="#44e000"/><circle r="1" fill="url(#vS)" transform="matrix(10.08,3.50,-6.76,6.48,1411.0,274.9)"/><circle r="1" fill="url(#hRg)" transform="matrix(10.08,4.55,-6.76,8.43,1411.0,268.3)"/><circle r="1" fill="url(#vS)" transform="matrix(10.08,3.50,-6.28,6.93,1432.2,282.4)"/><circle r="1" fill="url(#hRg)" transform="matrix(10.08,4.55,-6.28,9.01,1432.2,275.5)"/><circle r="1" fill="url(#vS)" transform="matrix(10.56,3.95,-6.76,6.48,1396.8,288.6)"/><circle r="1" fill="url(#hRg)" transform="matrix(10.56,5.13,-6.76,8.43,1396.8,281.8)"/><circle r="1" fill="url(#vS)" transform="matrix(10.08,3.50,-5.79,7.38,1453.5,290.0)"/><circle r="1" fill="url(#hRg)" transform="matrix(10.08,4.55,-5.79,9.59,1453.5,282.6)"/><circle r="1" fill="url(#vS)" transform="matrix(10.56,3.95,-6.28,6.93,1419.0,297.1)"/><circle r="1" fill="url(#hRg)" transform="matrix(10.56,5.13,-6.28,9.01,1419.0,289.9)"/><circle r="1" fill="url(#vS)" transform="matrix(10.08,3.50,-5.30,7.83,1474.7,297.5)"/><circle r="1" fill="url(#hRg)" transform="matrix(10.08,4.55,-5.30,10.18,1474.7,289.8)"/><circle r="1" fill="url(#vS)" transform="matrix(11.05,4.40,-6.76,6.48,1382.6,302.4)"/><circle r="1" fill="url(#hRg)" transform="matrix(11.05,5.72,-6.76,8.43,1382.6,295.3)"/><circle r="1" fill="url(#vS)" transform="matrix(10.56,3.95,-5.79,7.38,1441.3,305.6)"/><circle r="1" fill="url(#hRg)" transform="matrix(10.56,5.13,-5.79,9.59,1441.3,298.1)"/><circle r="1" fill="url(#vS)" transform="matrix(11.05,4.40,-6.28,6.93,1405.8,311.8)"/><circle r="1" fill="url(#hRg)" transform="matrix(11.05,5.72,-6.28,9.01,1405.8,304.4)"/><circle r="1" fill="url(#vS)" transform="matrix(10.56,3.95,-5.30,7.83,1463.5,314.1)"/><circle r="1" fill="url(#hRg)" transform="matrix(10.56,5.13,-5.30,10.18,1463.5,306.2)"/><circle r="1" fill="url(#vS)" transform="matrix(11.54,4.85,-6.76,6.48,1368.3,316.2)"/><circle r="1" fill="url(#hRg)" transform="matrix(11.54,6.30,-6.76,8.43,1368.3,308.9)"/><circle r="1" fill="url(#vS)" transform="matrix(11.05,4.40,-5.79,7.38,1429.1,321.3)"/><circle r="1" fill="url(#hRg)" transform="matrix(11.05,5.72,-5.79,9.59,1429.1,313.5)"/><circle r="1" fill="url(#vS)" transform="matrix(11.54,4.85,-6.28,6.93,1392.6,326.5)"/><circle r="1" fill="url(#hRg)" transform="matrix(11.54,6.30,-6.28,9.01,1392.6,318.9)"/><circle r="1" fill="url(#vS)" transform="matrix(11.05,4.40,-5.30,7.83,1452.3,330.7)"/><circle r="1" fill="url(#hRg)" transform="matrix(11.05,5.72,-5.30,10.18,1452.3,322.6)"/><circle r="1" fill="url(#vS)" transform="matrix(11.54,4.85,-5.79,7.38,1416.9,336.9)"/><circle r="1" fill="url(#hRg)" transform="matrix(11.54,6.30,-5.79,9.59,1416.9,328.9)"/><circle r="1" fill="url(#vS)" transform="matrix(11.54,4.85,-5.30,7.83,1441.2,347.3)"/><circle r="1" fill="url(#hRg)" transform="matrix(11.54,6.30,-5.30,10.18,1441.2,339.0)"/></g><clipPath id="sc8"><polygon points="1533.5,379.8 1594.8,332.6 1682.4,356.0 1681.4,368.0 1637.4,427.0 1534.5,391.8"/></clipPath><g clip-path="url(#sc8)"><polygon points="1594.8,346.6 1681.4,368.0 1637.4,427.0 1534.5,391.8" fill="#1818f0"/><circle r="1" fill="url(#vP)" transform="matrix(7.67,2.17,-4.57,4.15,1605.4,370.3)"/><circle r="1" fill="url(#vP)" transform="matrix(7.67,2.17,-4.12,4.53,1636.1,379.0)"/><circle r="1" fill="url(#vP)" transform="matrix(8.12,2.55,-4.57,4.15,1587.1,386.9)"/><circle r="1" fill="url(#vP)" transform="matrix(8.12,2.55,-4.12,4.53,1619.6,397.1)"/><circle r="1" fill="url(#hR)" transform="matrix(11.91,4.11,-7.68,8.23,1599.6,355.6)"/><circle r="1" fill="url(#hR)" transform="matrix(11.91,4.11,-6.95,9.03,1629.4,363.3)"/><circle r="1" fill="url(#hR)" transform="matrix(11.91,4.11,-6.23,9.83,1659.2,371.0)"/><circle r="1" fill="url(#hR)" transform="matrix(12.63,4.91,-7.68,8.23,1580.4,371.3)"/><circle r="1" fill="url(#hR)" transform="matrix(12.63,4.91,-6.95,9.03,1612.0,380.6)"/><circle r="1" fill="url(#hR)" transform="matrix(13.36,5.70,-7.68,8.23,1561.2,387.1)"/><circle r="1" fill="url(#hR)" transform="matrix(12.63,4.91,-6.23,9.83,1643.6,389.8)"/><circle r="1" fill="url(#hR)" transform="matrix(13.36,5.70,-6.95,9.03,1594.6,397.8)"/><circle r="1" fill="url(#hR)" transform="matrix(13.36,5.70,-6.23,9.83,1628.0,408.6)"/></g><g fill="none" stroke="#8cc88c" stroke-width="0.9"><polyline points="272.5,839.0 349.8,868.4 384.5,818.2"/><polyline points="271.5,831.1 318.5,791.3 385.5,810.3"/><line x1="271.5" y1="831.1" x2="272.5" y2="839.0"/><line x1="385.5" y1="810.3" x2="384.5" y2="818.2"/><line x1="318.5" y1="791.3" x2="318.9" y2="801.2"/></g><g font-family="Liberation Sans, Arial, sans-serif" font-size="4.6" fill="#5f8f5f"><text x="285.8" y="853.4">665</text><text x="305.1" y="860.7">1330</text><text x="324.5" y="868.0">1994</text><text x="343.8" y="875.4">2659</text><text x="365.2" y="857.3">665</text><text x="375.6" y="842.3">1330</text><text x="386.0" y="827.2">1994</text><text x="269.5" y="845.0">0</text></g><clipPath id="sc9"><polygon points="271.5,822.0 318.9,782.2 385.5,801.2 384.5,813.2 349.8,863.4 272.5,834.0"/></clipPath><g clip-path="url(#sc9)"><polygon points="318.9,796.2 384.5,813.2 349.8,863.4 272.5,834.0" fill="#1010f0"/><circle r="1" fill="url(#hB)" transform="matrix(10.70,3.92,-7.04,8.21,322.4,802.5)"/><circle r="1" fill="url(#hB)" transform="matrix(10.70,3.92,-6.42,9.06,344.9,808.6)"/><circle r="1" fill="url(#hB)" transform="matrix(10.70,3.92,-5.80,9.91,367.5,814.7)"/><circle r="1" fill="url(#hB)" transform="matrix(11.31,4.78,-7.04,8.21,307.6,815.7)"/><circle r="1" fill="url(#hB)" transform="matrix(11.31,4.78,-6.42,9.06,331.4,823.2)"/><circle r="1" fill="url(#hB)" transform="matrix(11.93,5.63,-7.04,8.21,292.8,828.8)"/><circle r="1" fill="url(#hB)" transform="matrix(11.31,4.78,-5.80,9.91,355.2,830.6)"/><circle r="1" fill="url(#hB)" transform="matrix(11.93,5.63,-6.42,9.06,317.9,837.7)"/><circle r="1" fill="url(#hB)" transform="matrix(11.93,5.63,-5.80,9.91,343.0,846.5)"/></g><clipPath id="sc10"><polygon points="97.9,1017.0 164.7,962.8 257.2,996.2 256.2,1008.2 213.3,1074.5 98.9,1029.0"/></clipPath><g clip-path="url(#sc10)"><polygon points="164.7,976.8 256.2,1008.2 213.3,1074.5 98.9,1029.0" fill="#40dc10"/><circle r="1" fill="url(#vP)" transform="matrix(13.37,4.80,-8.26,7.66,172.6,998.6)"/><circle r="1" fill="url(#vP)" transform="matrix(13.37,4.80,-7.47,8.15,196.9,1007.3)"/><circle r="1" fill="url(#vP)" transform="matrix(14.16,5.29,-8.26,7.66,157.5,1012.5)"/><circle r="1" fill="url(#vP)" transform="matrix(13.37,4.80,-6.69,8.63,221.2,1016.0)"/><circle r="1" fill="url(#vP)" transform="matrix(14.16,5.29,-7.47,8.15,183.3,1022.1)"/><circle r="1" fill="url(#vP)" transform="matrix(14.94,5.77,-8.26,7.66,142.5,1026.4)"/><circle r="1" fill="url(#vP)" transform="matrix(14.16,5.29,-6.69,8.63,209.0,1031.7)"/><circle r="1" fill="url(#vP)" transform="matrix(14.94,5.77,-7.47,8.15,169.7,1036.9)"/><circle r="1" fill="url(#vP)" transform="matrix(14.94,5.77,-6.69,8.63,196.9,1047.4)"/><circle r="1" fill="url(#hO)" transform="matrix(11.80,4.97,-7.87,8.09,168.3,984.7)"/><circle r="1" fill="url(#hO)" transform="matrix(11.80,4.97,-7.15,8.62,191.9,992.9)"/><circle r="1" fill="url(#hO)" transform="matrix(12.51,5.50,-7.87,8.09,152.5,998.1)"/><circle r="1" fill="url(#hO)" transform="matrix(11.80,4.97,-6.44,9.15,215.5,1001.0)"/><circle r="1" fill="url(#hO)" transform="matrix(12.51,5.50,-7.15,8.62,177.6,1007.1)"/><circle r="1" fill="url(#hO)" transform="matrix(11.80,4.97,-5.72,9.68,239.0,1009.2)"/><circle r="1" fill="url(#hO)" transform="matrix(13.23,6.03,-7.87,8.09,136.8,1011.5)"/><circle r="1" fill="url(#hO)" transform="matrix(12.51,5.50,-6.44,9.15,202.6,1016.2)"/><circle r="1" fill="url(#hO)" transform="matrix(13.23,6.03,-7.15,8.62,163.3,1021.4)"/><circle r="1" fill="url(#hO)" transform="matrix(13.94,6.56,-7.87,8.09,121.1,1024.9)"/><circle r="1" fill="url(#hO)" transform="matrix(12.51,5.50,-5.72,9.68,227.6,1025.2)"/><circle r="1" fill="url(#hO)" transform="matrix(13.23,6.03,-6.44,9.15,189.7,1031.4)"/><circle r="1" fill="url(#hO)" transform="matrix(13.94,6.56,-7.15,8.62,149.0,1035.7)"/><circle r="1" fill="url(#hO)" transform="matrix(13.23,6.03,-5.72,9.68,216.2,1041.3)"/><circle r="1" fill="url(#hO)" transform="matrix(13.94,6.56,-6.44,9.15,176.8,1046.5)"/><circle r="1" fill="url(#hO)" transform="matrix(13.94,6.56,-5.72,9.68,204.7,1057.3)"/></g><clipPath id="sc11"><polygon points="626.0,791.7 674.6,739.6 772.0,771.1 771.0,783.1 732.4,842.3 627.0,803.7"/></clipPath><g clip-path="url(#sc11)"><polygon points="674.6,753.6 771.0,783.1 732.4,842.3 627.0,803.7" fill="#40e000"/><circle r="1" fill="url(#vS)" transform="matrix(14.13,4.48,-8.95,9.86,678.9,770.3)"/><circle r="1" fill="url(#hRg)" transform="matrix(12.85,5.29,-8.13,11.66,678.9,760.9)"/><circle r="1" fill="url(#vS)" transform="matrix(14.13,4.48,-8.51,10.30,703.4,778.2)"/><circle r="1" fill="url(#hRg)" transform="matrix(12.85,5.29,-7.74,12.17,703.4,768.5)"/><circle r="1" fill="url(#vS)" transform="matrix(14.13,4.48,-8.08,10.74,727.9,786.1)"/><circle r="1" fill="url(#hRg)" transform="matrix(12.85,5.29,-7.35,12.69,727.9,776.0)"/><circle r="1" fill="url(#vS)" transform="matrix(14.57,4.92,-8.95,9.86,663.4,787.4)"/><circle r="1" fill="url(#hRg)" transform="matrix(13.24,5.81,-8.13,11.66,663.4,777.9)"/><circle r="1" fill="url(#vS)" transform="matrix(14.13,4.48,-7.65,11.18,752.3,794.0)"/><circle r="1" fill="url(#hRg)" transform="matrix(12.85,5.29,-6.95,13.21,752.3,783.6)"/><circle r="1" fill="url(#vS)" transform="matrix(14.57,4.92,-8.51,10.30,688.6,796.1)"/><circle r="1" fill="url(#hRg)" transform="matrix(13.24,5.81,-7.74,12.17,688.6,786.2)"/><circle r="1" fill="url(#vS)" transform="matrix(14.57,4.92,-8.08,10.74,713.9,804.8)"/><circle r="1" fill="url(#hRg)" transform="matrix(13.24,5.81,-7.35,12.69,713.9,794.6)"/><circle r="1" fill="url(#vS)" transform="matrix(15.00,5.35,-8.95,9.86,647.9,804.6)"/><circle r="1" fill="url(#hRg)" transform="matrix(13.64,6.33,-8.13,11.66,647.9,794.9)"/><circle r="1" fill="url(#vS)" transform="matrix(14.57,4.92,-7.65,11.18,739.1,813.4)"/><circle r="1" fill="url(#hRg)" transform="matrix(13.24,5.81,-6.95,13.21,739.1,802.9)"/><circle r="1" fill="url(#vS)" transform="matrix(15.00,5.35,-8.51,10.30,673.9,814.0)"/><circle r="1" fill="url(#hRg)" transform="matrix(13.64,6.33,-7.74,12.17,673.9,804.0)"/><circle r="1" fill="url(#vS)" transform="matrix(15.00,5.35,-8.08,10.74,699.9,823.4)"/><circle r="1" fill="url(#hRg)" transform="matrix(13.64,6.33,-7.35,12.69,699.9,813.1)"/><circle r="1" fill="url(#vS)" transform="matrix(15.00,5.35,-7.65,11.18,725.8,832.9)"/><circle r="1" fill="url(#hRg)" transform="matrix(13.64,6.33,-6.95,13.21,725.8,822.2)"/></g><clipPath id="sc12"><polygon points="512.9,899.7 566.6,851.4 640.9,871.4 639.9,883.4 582.0,941.3 513.9,911.7"/></clipPath><g clip-path="url(#sc12)"><polygon points="566.6,865.4 639.9,883.4 582.0,941.3 513.9,911.7" fill="#60e800"/><circle r="1" fill="url(#vS)" transform="matrix(8.58,2.30,-6.30,5.64,569.1,876.7)"/><circle r="1" fill="url(#hY)" transform="matrix(9.54,3.32,-7.00,8.15,569.1,870.2)"/><circle r="1" fill="url(#vS)" transform="matrix(8.58,2.30,-6.46,5.98,587.3,881.7)"/><circle r="1" fill="url(#hY)" transform="matrix(9.54,3.32,-7.17,8.64,587.3,874.9)"/><circle r="1" fill="url(#vS)" transform="matrix(8.58,2.30,-6.61,6.33,605.4,886.7)"/><circle r="1" fill="url(#hY)" transform="matrix(9.54,3.32,-7.34,9.14,605.4,879.6)"/><circle r="1" fill="url(#vS)" transform="matrix(8.43,2.64,-6.30,5.64,555.8,888.7)"/><circle r="1" fill="url(#hY)" transform="matrix(9.36,3.81,-7.00,8.15,555.8,882.1)"/><circle r="1" fill="url(#vS)" transform="matrix(8.58,2.30,-6.76,6.67,623.6,891.7)"/><circle r="1" fill="url(#hY)" transform="matrix(9.54,3.32,-7.51,9.63,623.6,884.3)"/><circle r="1" fill="url(#vS)" transform="matrix(8.43,2.64,-6.46,5.98,573.6,894.4)"/><circle r="1" fill="url(#hY)" transform="matrix(9.36,3.81,-7.17,8.64,573.6,887.5)"/><circle r="1" fill="url(#vS)" transform="matrix(8.43,2.64,-6.61,6.33,591.4,900.2)"/><circle r="1" fill="url(#hY)" transform="matrix(9.36,3.81,-7.34,9.14,591.4,892.9)"/><circle r="1" fill="url(#vS)" transform="matrix(8.27,2.98,-6.30,5.64,542.4,900.7)"/><circle r="1" fill="url(#hY)" transform="matrix(9.19,4.31,-7.00,8.15,542.4,893.9)"/><circle r="1" fill="url(#vS)" transform="matrix(8.43,2.64,-6.76,6.67,609.3,905.9)"/><circle r="1" fill="url(#hY)" transform="matrix(9.36,3.81,-7.51,9.63,609.3,898.3)"/><circle r="1" fill="url(#vS)" transform="matrix(8.27,2.98,-6.46,5.98,559.9,907.1)"/><circle r="1" fill="url(#hY)" transform="matrix(9.19,4.31,-7.17,8.64,559.9,900.1)"/><circle r="1" fill="url(#vS)" transform="matrix(8.12,3.33,-6.30,5.64,529.1,912.7)"/><circle r="1" fill="url(#hY)" transform="matrix(9.02,4.80,-7.00,8.15,529.1,905.8)"/><circle r="1" fill="url(#vS)" transform="matrix(8.27,2.98,-6.61,6.33,577.4,913.6)"/><circle r="1" fill="url(#hY)" transform="matrix(9.19,4.31,-7.34,9.14,577.4,906.2)"/><circle r="1" fill="url(#vS)" transform="matrix(8.27,2.98,-6.76,6.67,595.0,920.1)"/><circle r="1" fill="url(#hY)" transform="matrix(9.19,4.31,-7.51,9.63,595.0,912.4)"/><circle r="1" fill="url(#vS)" transform="matrix(8.12,3.33,-6.46,5.98,546.3,919.9)"/><circle r="1" fill="url(#hY)" transform="matrix(9.02,4.80,-7.17,8.64,546.3,912.7)"/><circle r="1" fill="url(#vS)" transform="matrix(8.12,3.33,-6.61,6.33,563.5,927.1)"/><circle r="1" fill="url(#hY)" transform="matrix(9.02,4.80,-7.34,9.14,563.5,919.5)"/><circle r="1" fill="url(#vS)" transform="matrix(8.12,3.33,-6.76,6.67,580.6,934.3)"/><circle r="1" fill="url(#hY)" transform="matrix(9.02,4.80,-7.51,9.63,580.6,926.4)"/></g><clipPath id="sc13"><polygon points="394.0,950.0 440.6,901.6 520.0,925.4 519.0,937.4 480.4,987.6 395.0,962.0"/></clipPath><g clip-path="url(#sc13)"><polygon points="440.6,915.6 519.0,937.4 480.4,987.6 395.0,962.0" fill="#40e000"/><circle r="1" fill="url(#vS)" transform="matrix(8.92,2.51,-5.03,5.27,444.8,926.8)"/><circle r="1" fill="url(#hRg)" transform="matrix(8.92,3.51,-5.03,7.38,444.8,921.3)"/><circle r="1" fill="url(#vS)" transform="matrix(8.92,2.51,-4.83,5.38,464.6,932.4)"/><circle r="1" fill="url(#hRg)" transform="matrix(8.92,3.51,-4.83,7.53,464.6,926.8)"/><circle r="1" fill="url(#vS)" transform="matrix(8.92,2.51,-4.64,5.49,484.4,938.0)"/><circle r="1" fill="url(#hRg)" transform="matrix(8.92,3.51,-4.64,7.68,484.4,932.3)"/><circle r="1" fill="url(#vS)" transform="matrix(9.12,2.61,-5.03,5.27,433.6,938.6)"/><circle r="1" fill="url(#hRg)" transform="matrix(9.12,3.66,-5.03,7.38,433.6,933.0)"/><circle r="1" fill="url(#vS)" transform="matrix(8.92,2.51,-4.44,5.59,504.3,943.6)"/><circle r="1" fill="url(#hRg)" transform="matrix(8.92,3.51,-4.44,7.83,504.3,937.8)"/><circle r="1" fill="url(#vS)" transform="matrix(9.12,2.61,-4.83,5.38,453.9,944.4)"/><circle r="1" fill="url(#hRg)" transform="matrix(9.12,3.66,-4.83,7.53,453.9,938.7)"/><circle r="1" fill="url(#vS)" transform="matrix(9.12,2.61,-4.64,5.49,474.1,950.3)"/><circle r="1" fill="url(#hRg)" transform="matrix(9.12,3.66,-4.64,7.68,474.1,944.5)"/><circle r="1" fill="url(#vS)" transform="matrix(9.31,2.72,-5.03,5.27,422.4,950.3)"/><circle r="1" fill="url(#hRg)" transform="matrix(9.31,3.81,-5.03,7.38,422.4,944.7)"/><circle r="1" fill="url(#vS)" transform="matrix(9.12,2.61,-4.44,5.59,494.4,956.1)"/><circle r="1" fill="url(#hRg)" transform="matrix(9.12,3.66,-4.44,7.83,494.4,950.2)"/><circle r="1" fill="url(#vS)" transform="matrix(9.31,2.72,-4.83,5.38,443.1,956.4)"/><circle r="1" fill="url(#hRg)" transform="matrix(9.31,3.81,-4.83,7.53,443.1,950.7)"/><circle r="1" fill="url(#vS)" transform="matrix(9.51,2.83,-5.03,5.27,411.3,962.0)"/><circle r="1" fill="url(#hRg)" transform="matrix(9.51,3.96,-5.03,7.38,411.3,956.3)"/><circle r="1" fill="url(#vS)" transform="matrix(9.31,2.72,-4.64,5.49,463.8,962.5)"/><circle r="1" fill="url(#hRg)" transform="matrix(9.31,3.81,-4.64,7.68,463.8,956.6)"/><circle r="1" fill="url(#vS)" transform="matrix(9.51,2.83,-4.83,5.38,432.4,968.4)"/><circle r="1" fill="url(#hRg)" transform="matrix(9.51,3.96,-4.83,7.53,432.4,962.6)"/><circle r="1" fill="url(#vS)" transform="matrix(9.31,2.72,-4.44,5.59,484.5,968.6)"/><circle r="1" fill="url(#hRg)" transform="matrix(9.31,3.81,-4.44,7.83,484.5,962.6)"/><circle r="1" fill="url(#vS)" transform="matrix(9.51,2.83,-4.64,5.49,453.5,974.7)"/><circle r="1" fill="url(#hRg)" transform="matrix(9.51,3.96,-4.64,7.68,453.5,968.8)"/><circle r="1" fill="url(#vS)" transform="matrix(9.51,2.83,-4.44,5.59,474.7,981.0)"/><circle r="1" fill="url(#hRg)" transform="matrix(9.51,3.96,-4.44,7.83,474.7,975.1)"/></g><g fill="none" stroke="#8cc88c" stroke-width="0.9"><polyline points="1040.5,780.3 1128.9,818.0 1168.3,765.2"/><polyline points="1039.5,773.3 1093.3,734.2 1169.3,758.2"/><line x1="1039.5" y1="773.3" x2="1040.5" y2="780.3"/><line x1="1169.3" y1="758.2" x2="1168.3" y2="765.2"/><line x1="1093.3" y1="734.2" x2="1092.0" y2="742.6"/></g><g font-family="Liberation Sans, Arial, sans-serif" font-size="4.6" fill="#5f8f5f"><text x="1056.6" y="796.7">665</text><text x="1078.7" y="806.1">1330</text><text x="1100.8" y="815.6">1994</text><text x="1122.9" y="825.0">2659</text><text x="1145.7" y="806.2">665</text><text x="1157.5" y="790.3">1330</text><text x="1169.4" y="774.5">1994</text><text x="1037.5" y="786.3">0</text></g><g><polygon points="1035.0,775.0 1039.0,778.0 1039.0,792.0 1035.0,789.0" fill="url(#cbar)"/></g><clipPath id="sc14"><polygon points="1039.5,763.3 1092.0,723.6 1169.3,748.2 1168.3,760.2 1128.9,813.0 1040.5,775.3"/></clipPath><g clip-path="url(#sc14)"><polygon points="1092.0,737.6 1168.3,760.2 1128.9,813.0 1040.5,775.3" fill="#44e000"/><circle r="1" fill="url(#vS)" transform="matrix(9.73,3.06,-6.25,4.95,1095.3,748.0)"/><circle r="1" fill="url(#hRg)" transform="matrix(9.73,4.44,-6.25,7.18,1095.3,742.5)"/><circle r="1" fill="url(#vS)" transform="matrix(9.73,3.06,-5.87,5.42,1114.7,754.3)"/><circle r="1" fill="url(#hRg)" transform="matrix(9.73,4.44,-5.87,7.86,1114.7,748.4)"/><circle r="1" fill="url(#vS)" transform="matrix(10.10,3.53,-6.25,4.95,1082.8,758.0)"/><circle r="1" fill="url(#hRg)" transform="matrix(10.10,5.12,-6.25,7.18,1082.8,752.2)"/><circle r="1" fill="url(#vS)" transform="matrix(9.73,3.06,-5.49,5.89,1134.2,760.6)"/><circle r="1" fill="url(#hRg)" transform="matrix(9.73,4.44,-5.49,8.54,1134.2,754.3)"/><circle r="1" fill="url(#vS)" transform="matrix(10.10,3.53,-5.87,5.42,1103.0,765.2)"/><circle r="1" fill="url(#hRg)" transform="matrix(10.10,5.12,-5.87,7.86,1103.0,759.1)"/><circle r="1" fill="url(#vS)" transform="matrix(9.73,3.06,-5.11,6.36,1153.6,766.9)"/><circle r="1" fill="url(#hRg)" transform="matrix(9.73,4.44,-5.11,9.23,1153.6,760.2)"/><circle r="1" fill="url(#vS)" transform="matrix(10.48,4.00,-6.25,4.95,1070.3,768.0)"/><circle r="1" fill="url(#hRg)" transform="matrix(10.48,5.81,-6.25,7.18,1070.3,762.0)"/><circle r="1" fill="url(#vS)" transform="matrix(10.10,3.53,-5.49,5.89,1123.2,772.5)"/><circle r="1" fill="url(#hRg)" transform="matrix(10.10,5.12,-5.49,8.54,1123.2,766.0)"/><circle r="1" fill="url(#vS)" transform="matrix(10.48,4.00,-5.87,5.42,1091.3,776.2)"/><circle r="1" fill="url(#hRg)" transform="matrix(10.48,5.81,-5.87,7.86,1091.3,769.8)"/><circle r="1" fill="url(#vS)" transform="matrix(10.86,4.48,-6.25,4.95,1057.8,778.1)"/><circle r="1" fill="url(#hRg)" transform="matrix(10.86,6.49,-6.25,7.18,1057.8,771.7)"/><circle r="1" fill="url(#vS)" transform="matrix(10.10,3.53,-5.11,6.36,1143.4,779.7)"/><circle r="1" fill="url(#hRg)" transform="matrix(10.10,5.12,-5.11,9.23,1143.4,772.8)"/><circle r="1" fill="url(#vS)" transform="matrix(10.48,4.00,-5.49,5.89,1112.2,784.4)"/><circle r="1" fill="url(#hRg)" transform="matrix(10.48,5.81,-5.49,8.54,1112.2,777.6)"/><circle r="1" fill="url(#vS)" transform="matrix(10.86,4.48,-5.87,5.42,1079.5,787.2)"/><circle r="1" fill="url(#hRg)" transform="matrix(10.86,6.49,-5.87,7.86,1079.5,780.5)"/><circle r="1" fill="url(#vS)" transform="matrix(10.48,4.00,-5.11,6.36,1133.2,792.6)"/><circle r="1" fill="url(#hRg)" transform="matrix(10.48,5.81,-5.11,9.23,1133.2,785.4)"/><circle r="1" fill="url(#vS)" transform="matrix(10.86,4.48,-5.49,5.89,1101.2,796.3)"/><circle r="1" fill="url(#hRg)" transform="matrix(10.86,6.49,-5.49,8.54,1101.2,789.3)"/><circle r="1" fill="url(#vS)" transform="matrix(10.86,4.48,-5.11,6.36,1123.0,805.4)"/><circle r="1" fill="url(#hRg)" transform="matrix(10.86,6.49,-5.11,9.23,1123.0,798.0)"/></g><g fill="none" stroke="#8cc88c" stroke-width="0.9"><polyline points="1159.1,808.1 1251.1,842.1 1286.6,781.7"/><polyline points="1158.1,800.0 1210.4,755.6 1287.6,773.6"/><line x1="1158.1" y1="800.0" x2="1159.1" y2="808.1"/><line x1="1287.6" y1="773.6" x2="1286.6" y2="781.7"/><line x1="1210.4" y1="755.6" x2="1205.8" y2="765.8"/></g><g font-family="Liberation Sans, Arial, sans-serif" font-size="4.6" fill="#5f8f5f"><text x="1176.1" y="823.6">665</text><text x="1199.1" y="832.1">1330</text><text x="1222.1" y="840.6">1994</text><text x="1245.1" y="849.1">2659</text><text x="1266.8" y="828.0">665</text><text x="1277.4" y="809.9">1330</text><text x="1288.0" y="791.7">1994</text><text x="1156.1" y="814.1">0</text></g><g><polygon points="1153.0,793.0 1157.0,796.0 1157.0,810.0 1153.0,807.0" fill="url(#cbar)"/></g><clipPath id="sc15"><polygon points="1158.1,791.1 1205.8,746.8 1287.6,764.7 1286.6,776.7 1251.1,837.1 1159.1,803.1"/></clipPath><g clip-path="url(#sc15)"><polygon points="1205.8,760.8 1286.6,776.7 1251.1,837.1 1159.1,803.1" fill="#44e000"/><circle r="1" fill="url(#vS)" transform="matrix(10.28,2.27,-5.66,5.57,1210.2,771.1)"/><circle r="1" fill="url(#hRg)" transform="matrix(10.28,3.29,-5.66,8.08,1210.2,765.4)"/><circle r="1" fill="url(#vS)" transform="matrix(10.27,2.27,-5.31,6.14,1230.8,775.8)"/><circle r="1" fill="url(#hRg)" transform="matrix(10.27,3.29,-5.31,8.90,1230.8,769.6)"/><circle r="1" fill="url(#vS)" transform="matrix(10.27,2.27,-4.96,6.70,1251.3,780.6)"/><circle r="1" fill="url(#hRg)" transform="matrix(10.27,3.29,-4.96,9.72,1251.3,773.9)"/><circle r="1" fill="url(#vS)" transform="matrix(10.62,2.84,-5.66,5.57,1198.9,782.3)"/><circle r="1" fill="url(#hRg)" transform="matrix(10.62,4.11,-5.66,8.08,1198.9,776.4)"/><circle r="1" fill="url(#vS)" transform="matrix(10.27,2.27,-4.61,7.27,1271.9,785.4)"/><circle r="1" fill="url(#hRg)" transform="matrix(10.27,3.29,-4.61,10.54,1271.9,778.2)"/><circle r="1" fill="url(#vS)" transform="matrix(10.62,2.84,-5.31,6.14,1220.2,788.2)"/><circle r="1" fill="url(#hRg)" transform="matrix(10.62,4.11,-5.31,8.90,1220.2,781.8)"/><circle r="1" fill="url(#vS)" transform="matrix(10.97,3.40,-5.66,5.57,1187.6,793.6)"/><circle r="1" fill="url(#hRg)" transform="matrix(10.97,4.93,-5.66,8.08,1187.6,787.4)"/><circle r="1" fill="url(#vS)" transform="matrix(10.63,2.84,-4.96,6.70,1241.4,794.1)"/><circle r="1" fill="url(#hRg)" transform="matrix(10.63,4.11,-4.96,9.72,1241.4,787.2)"/><circle r="1" fill="url(#vS)" transform="matrix(10.62,2.84,-4.61,7.27,1262.7,800.0)"/><circle r="1" fill="url(#hRg)" transform="matrix(10.62,4.11,-4.61,10.54,1262.7,792.6)"/><circle r="1" fill="url(#vS)" transform="matrix(10.97,3.40,-5.31,6.14,1209.5,800.6)"/><circle r="1" fill="url(#hRg)" transform="matrix(10.97,4.93,-5.31,8.90,1209.5,793.9)"/><circle r="1" fill="url(#vS)" transform="matrix(11.33,3.97,-5.66,5.57,1176.3,804.9)"/><circle r="1" fill="url(#hRg)" transform="matrix(11.33,5.75,-5.66,8.08,1176.3,798.4)"/><circle r="1" fill="url(#vS)" transform="matrix(10.98,3.40,-4.96,6.70,1231.5,807.6)"/><circle r="1" fill="url(#hRg)" transform="matrix(10.98,4.93,-4.96,9.72,1231.5,800.5)"/><circle r="1" fill="url(#vS)" transform="matrix(11.32,3.97,-5.31,6.14,1198.9,813.0)"/><circle r="1" fill="url(#hRg)" transform="matrix(11.32,5.75,-5.31,8.90,1198.9,806.1)"/><circle r="1" fill="url(#vS)" transform="matrix(10.97,3.40,-4.61,7.27,1253.4,814.7)"/><circle r="1" fill="url(#hRg)" transform="matrix(10.97,4.93,-4.61,10.54,1253.4,807.0)"/><circle r="1" fill="url(#vS)" transform="matrix(11.32,3.97,-4.96,6.70,1221.6,821.2)"/><circle r="1" fill="url(#hRg)" transform="matrix(11.32,5.75,-4.96,9.72,1221.6,813.8)"/><circle r="1" fill="url(#vS)" transform="matrix(11.33,3.97,-4.61,7.27,1244.2,829.3)"/><circle r="1" fill="url(#hRg)" transform="matrix(11.33,5.75,-4.61,10.54,1244.2,821.4)"/></g><g fill="none" stroke="#8cc88c" stroke-width="0.9"><polyline points="1281.3,840.6 1371.1,873.8 1410.3,817.9"/><polyline points="1280.3,831.9 1334.1,782.7 1411.3,809.2"/><line x1="1280.3" y1="831.9" x2="1281.3" y2="840.6"/><line x1="1411.3" y1="809.2" x2="1410.3" y2="817.9"/><line x1="1334.1" y1="782.7" x2="1333.4" y2="793.8"/></g><g font-family="Liberation Sans, Arial, sans-serif" font-size="4.6" fill="#5f8f5f"><text x="1297.8" y="855.9">665</text><text x="1320.2" y="864.2">1330</text><text x="1342.6" y="872.5">1994</text><text x="1365.1" y="880.8">2659</text><text x="1387.9" y="861.0">665</text><text x="1399.6" y="844.3">1330</text><text x="1411.4" y="827.5">1994</text><text x="1278.3" y="846.6">0</text></g><g><polygon points="1276.0,825.0 1280.0,828.0 1280.0,842.0 1276.0,839.0" fill="url(#cbar)"/></g><clipPath id="sc16"><polygon points="1280.3,823.6 1333.4,774.8 1411.3,800.9 1410.3,812.9 1371.1,868.8 1281.3,835.6"/></clipPath><g clip-path="url(#sc16)"><polygon points="1333.4,788.8 1410.3,812.9 1371.1,868.8 1281.3,835.6" fill="#44e000"/><circle r="1" fill="url(#vS)" transform="matrix(10.30,3.31,-6.63,6.29,1336.7,800.9)"/><circle r="1" fill="url(#hRg)" transform="matrix(9.81,4.57,-6.31,8.69,1336.7,794.4)"/><circle r="1" fill="url(#vS)" transform="matrix(10.30,3.31,-6.20,6.59,1356.3,807.3)"/><circle r="1" fill="url(#hRg)" transform="matrix(9.81,4.57,-5.91,9.10,1356.3,800.6)"/><circle r="1" fill="url(#vS)" transform="matrix(10.73,3.61,-6.63,6.29,1324.1,812.9)"/><circle r="1" fill="url(#hRg)" transform="matrix(10.22,4.99,-6.31,8.69,1324.1,806.3)"/><circle r="1" fill="url(#vS)" transform="matrix(10.30,3.31,-5.78,6.89,1376.0,813.7)"/><circle r="1" fill="url(#hRg)" transform="matrix(9.81,4.57,-5.50,9.51,1376.0,806.8)"/><circle r="1" fill="url(#vS)" transform="matrix(10.73,3.61,-6.20,6.59,1344.5,819.9)"/><circle r="1" fill="url(#hRg)" transform="matrix(10.22,4.99,-5.91,9.10,1344.5,813.1)"/><circle r="1" fill="url(#vS)" transform="matrix(10.30,3.31,-5.36,7.19,1395.6,820.1)"/><circle r="1" fill="url(#hRg)" transform="matrix(9.81,4.57,-5.10,9.93,1395.6,813.0)"/><circle r="1" fill="url(#vS)" transform="matrix(11.15,3.91,-6.63,6.29,1311.5,824.9)"/><circle r="1" fill="url(#hRg)" transform="matrix(10.62,5.40,-6.31,8.69,1311.5,818.2)"/><circle r="1" fill="url(#vS)" transform="matrix(10.73,3.61,-5.78,6.89,1364.9,826.9)"/><circle r="1" fill="url(#hRg)" transform="matrix(10.22,4.99,-5.50,9.51,1364.9,819.8)"/><circle r="1" fill="url(#vS)" transform="matrix(11.15,3.91,-6.20,6.59,1332.7,832.5)"/><circle r="1" fill="url(#hRg)" transform="matrix(10.62,5.40,-5.91,9.10,1332.7,825.6)"/><circle r="1" fill="url(#vS)" transform="matrix(10.73,3.61,-5.36,7.19,1385.4,833.9)"/><circle r="1" fill="url(#hRg)" transform="matrix(10.22,4.99,-5.10,9.93,1385.4,826.6)"/><circle r="1" fill="url(#vS)" transform="matrix(11.57,4.21,-6.63,6.29,1298.8,837.0)"/><circle r="1" fill="url(#hRg)" transform="matrix(11.02,5.81,-6.31,8.69,1298.8,830.2)"/><circle r="1" fill="url(#vS)" transform="matrix(11.15,3.91,-5.78,6.89,1353.9,840.1)"/><circle r="1" fill="url(#hRg)" transform="matrix(10.62,5.40,-5.50,9.51,1353.9,832.9)"/><circle r="1" fill="url(#vS)" transform="matrix(11.57,4.21,-6.20,6.59,1320.9,845.1)"/><circle r="1" fill="url(#hRg)" transform="matrix(11.02,5.81,-5.91,9.10,1320.9,838.0)"/><circle r="1" fill="url(#vS)" transform="matrix(11.15,3.91,-5.36,7.19,1375.2,847.6)"/><circle r="1" fill="url(#hRg)" transform="matrix(10.62,5.40,-5.10,9.93,1375.2,840.2)"/><circle r="1" fill="url(#vS)" transform="matrix(11.57,4.21,-5.78,6.89,1342.9,853.2)"/><circle r="1" fill="url(#hRg)" transform="matrix(11.02,5.81,-5.50,9.51,1342.9,845.9)"/><circle r="1" fill="url(#vS)" transform="matrix(11.57,4.21,-5.36,7.19,1365.0,861.4)"/><circle r="1" fill="url(#hRg)" transform="matrix(11.02,5.81,-5.10,9.93,1365.0,853.8)"/></g><g fill="none" stroke="#8cc88c" stroke-width="0.9"><polyline points="1407.0,844.5 1498.6,874.2 1536.2,817.9"/><polyline points="1406.0,835.3 1458.7,790.2 1537.2,808.7"/><line x1="1406.0" y1="835.3" x2="1407.0" y2="844.5"/><line x1="1537.2" y1="808.7" x2="1536.2" y2="817.9"/><line x1="1458.7" y1="790.2" x2="1459.5" y2="802.2"/></g><g font-family="Liberation Sans, Arial, sans-serif" font-size="4.6" fill="#5f8f5f"><text x="1423.9" y="858.9">665</text><text x="1446.8" y="866.4">1330</text><text x="1469.7" y="873.8">1994</text><text x="1492.6" y="881.2">2659</text><text x="1514.9" y="861.3">665</text><text x="1526.2" y="844.4">1330</text><text x="1537.4" y="827.5">1994</text><text x="1404.0" y="850.5">0</text></g><g><polygon points="1401.0,830.0 1405.0,833.0 1405.0,847.0 1401.0,844.0" fill="url(#cbar)"/></g><clipPath id="sc17"><polygon points="1406.0,827.5 1459.5,783.2 1537.2,800.9 1536.2,812.9 1498.6,869.2 1407.0,839.5"/></clipPath><g clip-path="url(#sc17)"><polygon points="1459.5,797.2 1536.2,812.9 1498.6,869.2 1407.0,839.5" fill="#44e000"/><circle r="1" fill="url(#vS)" transform="matrix(10.31,2.29,-6.65,5.78,1462.8,807.3)"/><circle r="1" fill="url(#hRg)" transform="matrix(9.82,3.16,-6.33,7.98,1462.8,801.7)"/><circle r="1" fill="url(#vS)" transform="matrix(10.31,2.29,-6.16,6.24,1482.4,811.9)"/><circle r="1" fill="url(#hRg)" transform="matrix(9.82,3.16,-5.86,8.62,1482.4,805.9)"/><circle r="1" fill="url(#vS)" transform="matrix(10.31,2.29,-5.67,6.70,1502.0,816.4)"/><circle r="1" fill="url(#hRg)" transform="matrix(9.82,3.16,-5.40,9.25,1502.0,810.0)"/><circle r="1" fill="url(#vS)" transform="matrix(10.80,2.75,-6.65,5.78,1450.1,818.4)"/><circle r="1" fill="url(#hRg)" transform="matrix(10.29,3.80,-6.33,7.98,1450.1,812.6)"/><circle r="1" fill="url(#vS)" transform="matrix(10.31,2.29,-5.18,7.16,1521.7,821.0)"/><circle r="1" fill="url(#hRg)" transform="matrix(9.82,3.16,-4.93,9.89,1521.7,814.2)"/><circle r="1" fill="url(#vS)" transform="matrix(10.80,2.75,-6.16,6.24,1470.7,823.8)"/><circle r="1" fill="url(#hRg)" transform="matrix(10.29,3.80,-5.86,8.62,1470.7,817.7)"/><circle r="1" fill="url(#vS)" transform="matrix(10.80,2.75,-5.67,6.70,1491.2,829.3)"/><circle r="1" fill="url(#hRg)" transform="matrix(10.29,3.80,-5.40,9.25,1491.2,822.7)"/><circle r="1" fill="url(#vS)" transform="matrix(11.29,3.21,-6.65,5.78,1437.4,829.5)"/><circle r="1" fill="url(#hRg)" transform="matrix(10.75,4.43,-6.33,7.98,1437.4,823.5)"/><circle r="1" fill="url(#vS)" transform="matrix(10.80,2.75,-5.18,7.16,1511.8,834.7)"/><circle r="1" fill="url(#hRg)" transform="matrix(10.29,3.80,-4.93,9.89,1511.8,827.7)"/><circle r="1" fill="url(#vS)" transform="matrix(11.29,3.21,-6.16,6.24,1458.9,835.8)"/><circle r="1" fill="url(#hRg)" transform="matrix(10.75,4.43,-5.86,8.62,1458.9,829.5)"/><circle r="1" fill="url(#vS)" transform="matrix(11.78,3.67,-6.65,5.78,1424.8,840.6)"/><circle r="1" fill="url(#hRg)" transform="matrix(11.22,5.07,-6.33,7.98,1424.8,834.4)"/><circle r="1" fill="url(#vS)" transform="matrix(11.29,3.21,-5.67,6.70,1480.4,842.1)"/><circle r="1" fill="url(#hRg)" transform="matrix(10.75,4.43,-5.40,9.25,1480.4,835.4)"/><circle r="1" fill="url(#vS)" transform="matrix(11.78,3.67,-6.16,6.24,1447.2,847.8)"/><circle r="1" fill="url(#hRg)" transform="matrix(11.22,5.07,-5.86,8.62,1447.2,841.2)"/><circle r="1" fill="url(#vS)" transform="matrix(11.29,3.21,-5.18,7.16,1501.9,848.4)"/><circle r="1" fill="url(#hRg)" transform="matrix(10.75,4.43,-4.93,9.89,1501.9,841.3)"/><circle r="1" fill="url(#vS)" transform="matrix(11.78,3.67,-5.67,6.70,1469.6,855.0)"/><circle r="1" fill="url(#hRg)" transform="matrix(11.22,5.07,-5.40,9.25,1469.6,848.0)"/><circle r="1" fill="url(#vS)" transform="matrix(11.78,3.67,-5.18,7.16,1492.1,862.1)"/><circle r="1" fill="url(#hRg)" transform="matrix(11.22,5.07,-4.93,9.89,1492.1,854.8)"/></g><g fill="none" stroke="#8cc88c" stroke-width="0.9"><polyline points="1548.7,864.8 1631.6,897.7 1669.2,844.5"/><polyline points="1547.7,855.6 1596.4,812.9 1670.2,835.3"/><line x1="1547.7" y1="855.6" x2="1548.7" y2="864.8"/><line x1="1670.2" y1="835.3" x2="1669.2" y2="844.5"/><line x1="1596.4" y1="812.9" x2="1589.4" y2="824.9"/></g><g font-family="Liberation Sans, Arial, sans-serif" font-size="4.6" fill="#5f8f5f"><text x="1563.4" y="880.0">665</text><text x="1584.2" y="888.2">1330</text><text x="1604.9" y="896.5">1994</text><text x="1625.6" y="904.7">2659</text><text x="1647.9" y="885.7">665</text><text x="1659.2" y="869.8">1330</text><text x="1670.4" y="853.8">1994</text><text x="1545.7" y="870.8">0</text></g><g><polygon points="1540.0,850.0 1544.0,853.0 1544.0,867.0 1540.0,864.0" fill="url(#cbar)"/></g><clipPath id="sc18"><polygon points="1547.7,847.8 1589.4,805.9 1670.2,827.5 1669.2,839.5 1631.6,892.7 1548.7,859.8"/></clipPath><g clip-path="url(#sc18)"><polygon points="1589.4,819.9 1669.2,839.5 1631.6,892.7 1548.7,859.8" fill="#44e000"/><circle r="1" fill="url(#vS)" transform="matrix(10.02,2.66,-5.04,5.20,1594.3,830.2)"/><circle r="1" fill="url(#hRg)" transform="matrix(10.02,3.85,-5.04,7.53,1594.3,824.6)"/><circle r="1" fill="url(#vS)" transform="matrix(10.02,2.66,-4.94,5.61,1614.4,835.7)"/><circle r="1" fill="url(#hRg)" transform="matrix(10.02,3.85,-4.94,8.14,1614.4,829.8)"/><circle r="1" fill="url(#vS)" transform="matrix(10.12,3.07,-5.04,5.20,1584.3,840.7)"/><circle r="1" fill="url(#hRg)" transform="matrix(10.12,4.46,-5.04,7.53,1584.3,834.9)"/><circle r="1" fill="url(#vS)" transform="matrix(10.02,2.66,-4.85,6.03,1634.4,841.1)"/><circle r="1" fill="url(#hRg)" transform="matrix(10.02,3.85,-4.85,8.74,1634.4,834.9)"/><circle r="1" fill="url(#vS)" transform="matrix(10.02,2.66,-4.75,6.44,1654.5,846.6)"/><circle r="1" fill="url(#hRg)" transform="matrix(10.02,3.85,-4.75,9.34,1654.5,840.0)"/><circle r="1" fill="url(#vS)" transform="matrix(10.12,3.07,-4.94,5.61,1604.5,847.0)"/><circle r="1" fill="url(#hRg)" transform="matrix(10.12,4.46,-4.94,8.14,1604.5,840.9)"/><circle r="1" fill="url(#vS)" transform="matrix(10.22,3.49,-5.04,5.20,1574.2,851.1)"/><circle r="1" fill="url(#hRg)" transform="matrix(10.22,5.06,-5.04,7.53,1574.2,845.2)"/><circle r="1" fill="url(#vS)" transform="matrix(10.12,3.07,-4.85,6.03,1624.7,853.3)"/><circle r="1" fill="url(#hRg)" transform="matrix(10.12,4.46,-4.85,8.74,1624.7,846.8)"/><circle r="1" fill="url(#vS)" transform="matrix(10.22,3.49,-4.94,5.61,1594.6,858.3)"/><circle r="1" fill="url(#hRg)" transform="matrix(10.22,5.06,-4.94,8.14,1594.6,852.0)"/><circle r="1" fill="url(#vS)" transform="matrix(10.12,3.07,-4.75,6.44,1645.0,859.6)"/><circle r="1" fill="url(#hRg)" transform="matrix(10.12,4.46,-4.75,9.34,1645.0,852.8)"/><circle r="1" fill="url(#vS)" transform="matrix(10.31,3.90,-5.04,5.20,1564.1,861.6)"/><circle r="1" fill="url(#hRg)" transform="matrix(10.31,5.66,-5.04,7.53,1564.1,855.5)"/><circle r="1" fill="url(#vS)" transform="matrix(10.22,3.49,-4.85,6.03,1615.0,865.4)"/><circle r="1" fill="url(#hRg)" transform="matrix(10.22,5.06,-4.85,8.74,1615.0,858.8)"/><circle r="1" fill="url(#vS)" transform="matrix(10.31,3.90,-4.94,5.61,1584.7,869.6)"/><circle r="1" fill="url(#hRg)" transform="matrix(10.31,5.66,-4.94,8.14,1584.7,863.1)"/><circle r="1" fill="url(#vS)" transform="matrix(10.22,3.49,-4.75,6.44,1635.5,872.6)"/><circle r="1" fill="url(#hRg)" transform="matrix(10.22,5.06,-4.75,9.34,1635.5,865.6)"/><circle r="1" fill="url(#vS)" transform="matrix(10.31,3.90,-4.85,6.03,1605.4,877.6)"/><circle r="1" fill="url(#hRg)" transform="matrix(10.31,5.66,-4.85,8.74,1605.4,870.7)"/><circle r="1" fill="url(#vS)" transform="matrix(10.31,3.90,-4.75,6.44,1626.0,885.5)"/><circle r="1" fill="url(#hRg)" transform="matrix(10.31,5.66,-4.75,9.34,1626.0,878.4)"/></g>
<path d="M115.2,246.0 L147.0,246.0 A41.1,41.1 0 0 1 201.0,246.0 L259.0,246.0 L259.0,270.6 L115.2,270.6 Z" fill="#141414"/><g transform="translate(177.0,156.0) rotate(-0.00)"><rect x="-4.0" y="0" width="8.0" height="55.0" rx="3.6" fill="#1c1c1c"/><rect x="-4.0" y="0" width="8.0" height="27.5" fill="#1c1c1c"/><circle cx="0" cy="50.4" r="3.4" fill="#fff" stroke="#1c1c1c" stroke-width="1.8"/></g><path d="M306.7,255.8 L343.0,255.8 C357.0,255.8 363.0,251.3 383.0,251.3 C403.0,251.3 409.0,255.8 423.0,255.8 L444.8,255.8 L444.8,281.5 L306.7,281.5 Z" fill="#141414"/><g transform="translate(378.3,178.7) rotate(-0.00)"><rect x="-4.7" y="0" width="9.3" height="33.3" rx="4.2" fill="#1c1c1c"/><rect x="-4.7" y="0" width="9.3" height="16.7" fill="#1c1c1c"/></g><path d="M466.4,490.5 L507.0,490.5 C521.2,490.5 527.2,483.6 547.5,483.6 C567.8,483.6 573.8,490.5 588.0,490.5 L614.8,490.5 L614.8,519.0 L466.4,519.0 Z" fill="#141414"/><g transform="translate(542.4,405.0) rotate(-0.00)"><rect x="-5.5" y="0" width="11.0" height="35.3" rx="5.0" fill="#1c1c1c"/><rect x="-5.5" y="0" width="11.0" height="17.7" fill="#1c1c1c"/></g><path d="M629.8,484.5 L648.9,484.5 A54.1,12.7 0 0 1 757.0,484.5 L778.3,484.5 L778.3,508.7 L629.8,508.7 Z" fill="#141414"/><g transform="translate(702.2,397.7) rotate(-0.00)"><rect x="-5.0" y="0" width="10.0" height="38.6" rx="4.5" fill="#1c1c1c"/><rect x="-5.0" y="0" width="10.0" height="19.3" fill="#1c1c1c"/><circle cx="0" cy="33.2" r="4.2" fill="#fff" stroke="#1c1c1c" stroke-width="1.8"/></g><path d="M1033.9,330.1 L1069.0,330.1 A61.6,61.6 0 0 1 1131.8,330.1 L1174.5,330.1 L1174.5,359.2 L1033.9,359.2 Z" fill="#141414"/><g transform="translate(1105.5,253.4) rotate(2.47)"><rect x="-5.0" y="0" width="10.0" height="34.8" rx="4.5" fill="#1c1c1c"/><rect x="-5.0" y="0" width="10.0" height="17.4" fill="#1c1c1c"/></g><path d="M1191.0,354.5 L1211.0,354.5 C1227.3,354.5 1234.2,345.7 1257.5,345.7 C1280.8,345.7 1287.7,354.5 1304.0,354.5 L1336.5,354.5 L1336.5,384.4 L1191.0,384.4 Z" fill="#141414"/><g transform="translate(1263.8,278.4) rotate(-0.00)"><rect x="-5.5" y="0" width="11.0" height="30.0" rx="5.0" fill="#1c1c1c"/><rect x="-5.5" y="0" width="11.0" height="15.0" fill="#1c1c1c"/></g><path d="M1351.5,225.8 L1378.0,225.8 C1391.8,225.8 1397.8,221.3 1417.5,221.3 C1437.2,221.3 1443.2,225.8 1457.0,225.8 L1490.8,225.8 L1490.8,252.2 L1351.5,252.2 Z" fill="#141414"/><g transform="translate(1423.0,148.0) rotate(4.51)"><rect x="-4.5" y="0" width="9.0" height="44.5" rx="4.0" fill="#1c1c1c"/><rect x="-4.5" y="0" width="9.0" height="22.3" fill="#1c1c1c"/><circle cx="0" cy="39.6" r="3.8" fill="#fff" stroke="#1c1c1c" stroke-width="1.8"/></g><path d="M1549.5,205.0 L1581.8,205.0 A31.3,7.6 0 0 1 1644.4,205.0 L1689.4,205.0 L1689.4,236.6 L1549.5,236.6 Z" fill="#141414"/><g transform="translate(1617.5,130.8) rotate(0.71)"><rect x="-4.2" y="0" width="8.5" height="40.2" rx="3.8" fill="#1c1c1c"/><rect x="-4.2" y="0" width="8.5" height="20.1" fill="#1c1c1c"/><circle cx="0" cy="35.4" r="3.6" fill="#fff" stroke="#1c1c1c" stroke-width="1.8"/></g><path d="M99.8,936.6 L138.3,936.6 A51.7,51.7 0 0 1 211.3,936.6 L249.0,936.6 L249.0,966.8 L99.8,966.8 Z" fill="#141414"/><g transform="translate(175.2,858.6) rotate(-0.00)"><rect x="-5.4" y="0" width="10.8" height="30.2" rx="4.9" fill="#1c1c1c"/><rect x="-5.4" y="0" width="10.8" height="15.1" fill="#1c1c1c"/></g><g transform="translate(348.4,929.0) rotate(0.57)"><rect x="-4.5" y="0" width="9.0" height="40.3" rx="4.0" fill="#1c1c1c"/><rect x="-4.5" y="0" width="9.0" height="20.2" fill="#1c1c1c"/><circle cx="0" cy="35.3" r="3.8" fill="#fff" stroke="#1c1c1c" stroke-width="1.8"/></g><path d="M286.2,997.5 L302.0,997.5 C315.8,997.5 321.8,993.7 341.5,993.7 C361.2,993.7 367.2,997.5 381.0,997.5 L407.9,997.5 L407.9,1020.3 L286.2,1020.3 Z" fill="#141414"/><g transform="translate(429.5,1021.0) rotate(-0.95)"><rect x="-5.2" y="0" width="10.4" height="30.2" rx="4.7" fill="#1c1c1c"/><rect x="-5.2" y="0" width="10.4" height="15.1" fill="#1c1c1c"/></g><path d="M368.7,1098.3 L390.0,1098.3 C406.4,1098.3 413.5,1094.3 437.0,1094.3 C460.5,1094.3 467.6,1098.3 484.0,1098.3 L502.4,1098.3 L502.4,1121.5 L368.7,1121.5 Z" fill="#141414"/><g transform="translate(695.5,863.4) rotate(4.03)"><rect x="-5.0" y="0" width="10.0" height="35.6" rx="4.5" fill="#1c1c1c"/><rect x="-5.0" y="0" width="10.0" height="17.8" fill="#1c1c1c"/></g><path d="M623.1,939.5 L659.0,939.5 A81.5,81.5 0 0 1 726.0,939.5 L764.6,939.5 L764.6,969.6 L623.1,969.6 Z" fill="#141414"/><g transform="translate(566.5,1090.0) rotate(-0.00)"><rect x="-5.0" y="0" width="9.9" height="39.0" rx="4.5" fill="#1c1c1c"/><rect x="-5.0" y="0" width="9.9" height="19.5" fill="#1c1c1c"/></g><path d="M497.3,1168.1 L512.0,1168.1 C528.3,1168.1 535.2,1160.3 558.5,1160.3 C581.8,1160.3 588.7,1168.1 605.0,1168.1 L640.3,1168.1 L640.3,1196.7 L497.3,1196.7 Z" fill="#141414"/><g transform="translate(1101.6,1022.5) rotate(-0.00)"><rect x="-4.7" y="0" width="9.4" height="26.8" rx="4.2" fill="#1c1c1c"/><rect x="-4.7" y="0" width="9.4" height="13.4" fill="#1c1c1c"/></g><path d="M1044.4,1093.0 L1062.0,1093.0 C1077.8,1093.0 1084.5,1089.6 1107.0,1089.6 C1129.5,1089.6 1136.2,1093.0 1152.0,1093.0 L1166.6,1093.0 L1166.6,1111.5 L1044.4,1111.5 Z" fill="#141414"/><g transform="translate(1228.0,983.6) rotate(-0.00)"><rect x="-4.2" y="0" width="8.3" height="34.9" rx="3.7" fill="#1c1c1c"/><rect x="-4.2" y="0" width="8.3" height="17.4" fill="#1c1c1c"/></g><path d="M1167.2,1058.3 L1198.0,1058.3 C1208.2,1058.3 1212.5,1052.5 1227.0,1052.5 C1241.5,1052.5 1245.8,1058.3 1256.0,1058.3 L1289.4,1058.3 L1289.4,1073.2 L1167.2,1073.2 Z" fill="#141414"/><g transform="translate(1343.8,963.8) rotate(-4.84)"><rect x="-4.4" y="0" width="8.8" height="29.6" rx="4.0" fill="#1c1c1c"/><rect x="-4.4" y="0" width="8.8" height="14.8" fill="#1c1c1c"/></g><path d="M1286.5,1028.9 L1305.0,1028.9 C1319.9,1028.9 1326.2,1024.0 1347.5,1024.0 C1368.8,1024.0 1375.1,1028.9 1390.0,1028.9 L1408.7,1028.9 L1408.7,1052.1 L1286.5,1052.1 Z" fill="#141414"/><g transform="translate(1480.0,933.4) rotate(1.36)"><rect x="-4.8" y="0" width="9.6" height="25.3" rx="4.3" fill="#1c1c1c"/><rect x="-4.8" y="0" width="9.6" height="12.7" fill="#1c1c1c"/></g><path d="M1414.2,997.3 L1445.0,997.3 A29.5,5.3 0 0 1 1504.0,997.3 L1536.9,997.3 L1536.9,1021.7 L1414.2,1021.7 Z" fill="#141414"/><g transform="translate(1586.5,1053.0) rotate(-0.00)"><rect x="-4.1" y="0" width="8.2" height="34.8" rx="3.7" fill="#1c1c1c"/><rect x="-4.1" y="0" width="8.2" height="17.4" fill="#1c1c1c"/></g><path d="M1524.4,1119.7 L1554.0,1119.7 A32.0,4.9 0 0 1 1618.0,1119.7 L1647.1,1119.7 L1647.1,1142.0 L1524.4,1142.0 Z" fill="#141414"/>
<line x1="197.5" y1="441.1" x2="365.0" y2="149.4" stroke="#ff0000" stroke-width="2.0"/><line x1="375.6" y1="146.2" x2="536.3" y2="227.5" stroke="#ff0000" stroke-width="2.0"/><line x1="549.3" y1="235.2" x2="711.8" y2="348.6" stroke="#ff0000" stroke-width="2.0"/><line x1="197.6" y1="123.8" x2="364.5" y2="428.3" stroke="#111" stroke-width="1.7"/><line x1="376.6" y1="432.7" x2="535.1" y2="370.5" stroke="#111" stroke-width="1.7"/><line x1="550.7" y1="363.3" x2="710.0" y2="276.5" stroke="#111" stroke-width="1.7"/><g stroke="#ff4a4a" stroke-width="1.1" fill="none"><line x1="193.7" y1="428.7" x2="193.7" y2="467.2"/><line x1="188.2" y1="428.7" x2="199.2" y2="428.7"/><line x1="188.2" y1="467.2" x2="199.2" y2="467.2"/></g><rect x="188.5" y="442.5" width="10.4" height="10.4" fill="#f23c3c" stroke="#ee2020" stroke-width="0.8"/><g stroke="#ff4a4a" stroke-width="1.1" fill="none"><line x1="368.8" y1="116.3" x2="368.8" y2="169.4"/><line x1="363.3" y1="116.3" x2="374.3" y2="116.3"/><line x1="363.3" y1="169.4" x2="374.3" y2="169.4"/></g><rect x="363.6" y="137.6" width="10.4" height="10.4" fill="#f23c3c" stroke="#ee2020" stroke-width="0.8"/><g stroke="#ff4a4a" stroke-width="1.1" fill="none"><line x1="543.1" y1="209.0" x2="543.1" y2="252.7"/><line x1="537.6" y1="209.0" x2="548.6" y2="209.0"/><line x1="537.6" y1="252.7" x2="548.6" y2="252.7"/></g><rect x="537.9" y="225.7" width="10.4" height="10.4" fill="#f23c3c" stroke="#ee2020" stroke-width="0.8"/><g stroke="#ff4a4a" stroke-width="1.1" fill="none"><line x1="718.0" y1="332.0" x2="718.0" y2="373.7"/><line x1="712.5" y1="332.0" x2="723.5" y2="332.0"/><line x1="712.5" y1="373.7" x2="723.5" y2="373.7"/></g><rect x="712.8" y="347.7" width="10.4" height="10.4" fill="#f23c3c" stroke="#ee2020" stroke-width="0.8"/><circle cx="193.5" cy="116.3" r="6.2" fill="#555555" stroke="#262626" stroke-width="1.2"/><circle cx="368.6" cy="435.8" r="6.2" fill="#555555" stroke="#262626" stroke-width="1.2"/><circle cx="543.1" cy="367.4" r="6.2" fill="#555555" stroke="#262626" stroke-width="1.2"/><circle cx="717.6" cy="272.4" r="6.2" fill="#555555" stroke="#262626" stroke-width="1.2"/><line x1="1094.2" y1="242.0" x2="1254.0" y2="204.2" stroke="#ff0000" stroke-width="2.0"/><line x1="1268.2" y1="199.1" x2="1429.1" y2="119.6" stroke="#ff0000" stroke-width="2.0"/><line x1="1441.0" y1="121.8" x2="1606.0" y2="302.9" stroke="#ff0000" stroke-width="2.0"/><line x1="1094.3" y1="147.6" x2="1253.9" y2="234.7" stroke="#111" stroke-width="1.7"/><line x1="1267.4" y1="245.0" x2="1430.1" y2="414.0" stroke="#111" stroke-width="1.7"/><line x1="1439.9" y1="412.5" x2="1606.9" y2="77.6" stroke="#111" stroke-width="1.7"/><g stroke="#ff4a4a" stroke-width="1.1" fill="none"><line x1="1086.8" y1="210.3" x2="1086.8" y2="276.9"/><line x1="1081.3" y1="210.3" x2="1092.3" y2="210.3"/><line x1="1081.3" y1="276.9" x2="1092.3" y2="276.9"/></g><rect x="1081.6" y="238.5" width="10.4" height="10.4" fill="#f23c3c" stroke="#ee2020" stroke-width="0.8"/><g stroke="#ff4a4a" stroke-width="1.1" fill="none"><line x1="1261.4" y1="178.9" x2="1261.4" y2="225.8"/><line x1="1255.9" y1="178.9" x2="1266.9" y2="178.9"/><line x1="1255.9" y1="225.8" x2="1266.9" y2="225.8"/></g><rect x="1256.2" y="197.3" width="10.4" height="10.4" fill="#f23c3c" stroke="#ee2020" stroke-width="0.8"/><g stroke="#ff4a4a" stroke-width="1.1" fill="none"><line x1="1435.9" y1="90.0" x2="1435.9" y2="142.1"/><line x1="1430.4" y1="90.0" x2="1441.4" y2="90.0"/><line x1="1430.4" y1="142.1" x2="1441.4" y2="142.1"/></g><rect x="1430.7" y="111.0" width="10.4" height="10.4" fill="#f23c3c" stroke="#ee2020" stroke-width="0.8"/><g stroke="#ff4a4a" stroke-width="1.1" fill="none"><line x1="1611.1" y1="277.6" x2="1611.1" y2="337.9"/><line x1="1605.6" y1="277.6" x2="1616.6" y2="277.6"/><line x1="1605.6" y1="337.9" x2="1616.6" y2="337.9"/></g><rect x="1605.9" y="303.3" width="10.4" height="10.4" fill="#f23c3c" stroke="#ee2020" stroke-width="0.8"/><circle cx="1086.8" cy="143.5" r="6.2" fill="#555555" stroke="#262626" stroke-width="1.2"/><circle cx="1261.4" cy="238.8" r="6.2" fill="#555555" stroke="#262626" stroke-width="1.2"/><circle cx="1436.1" cy="420.2" r="6.2" fill="#555555" stroke="#262626" stroke-width="1.2"/><circle cx="1610.7" cy="69.9" r="6.2" fill="#555555" stroke="#262626" stroke-width="1.2"/><line x1="208.4" y1="1176.0" x2="319.0" y2="905.4" stroke="#ff0000" stroke-width="2.0"/><line x1="327.9" y1="893.7" x2="432.1" y2="811.0" stroke="#ff0000" stroke-width="2.0"/><line x1="442.1" y1="812.8" x2="550.8" y2="988.1" stroke="#ff0000" stroke-width="2.0"/><line x1="560.9" y1="999.1" x2="665.4" y2="1076.5" stroke="#ff0000" stroke-width="2.0"/><line x1="207.9" y1="823.5" x2="318.9" y2="1128.1" stroke="#111" stroke-width="1.7"/><line x1="329.5" y1="1140.0" x2="430.6" y2="1189.5" stroke="#111" stroke-width="1.7"/><line x1="444.3" y1="1187.1" x2="548.8" y2="1080.2" stroke="#111" stroke-width="1.7"/><line x1="561.6" y1="1068.8" x2="664.7" y2="989.4" stroke="#111" stroke-width="1.7"/><g stroke="#ff4a4a" stroke-width="1.1" fill="none"><line x1="205.5" y1="1168.7" x2="205.5" y2="1196.3"/><line x1="200.0" y1="1168.7" x2="211.0" y2="1168.7"/><line x1="200.0" y1="1196.3" x2="211.0" y2="1196.3"/></g><rect x="200.3" y="1177.8" width="10.4" height="10.4" fill="#f23c3c" stroke="#ee2020" stroke-width="0.8"/><g stroke="#ff4a4a" stroke-width="1.1" fill="none"><line x1="321.9" y1="883.8" x2="321.9" y2="913.2"/><line x1="316.4" y1="883.8" x2="327.4" y2="883.8"/><line x1="316.4" y1="913.2" x2="327.4" y2="913.2"/></g><rect x="316.7" y="893.2" width="10.4" height="10.4" fill="#f23c3c" stroke="#ee2020" stroke-width="0.8"/><g stroke="#ff4a4a" stroke-width="1.1" fill="none"><line x1="438.1" y1="779.9" x2="438.1" y2="832.7"/><line x1="432.6" y1="779.9" x2="443.6" y2="779.9"/><line x1="432.6" y1="832.7" x2="443.6" y2="832.7"/></g><rect x="432.9" y="801.1" width="10.4" height="10.4" fill="#f23c3c" stroke="#ee2020" stroke-width="0.8"/><g stroke="#ff4a4a" stroke-width="1.1" fill="none"><line x1="554.8" y1="970.3" x2="554.8" y2="1019.9"/><line x1="549.3" y1="970.3" x2="560.3" y2="970.3"/><line x1="549.3" y1="1019.9" x2="560.3" y2="1019.9"/></g><rect x="549.6" y="989.4" width="10.4" height="10.4" fill="#f23c3c" stroke="#ee2020" stroke-width="0.8"/><g stroke="#ff4a4a" stroke-width="1.1" fill="none"><line x1="671.5" y1="1066.7" x2="671.5" y2="1095.8"/><line x1="666.0" y1="1066.7" x2="677.0" y2="1066.7"/><line x1="666.0" y1="1095.8" x2="677.0" y2="1095.8"/></g><rect x="666.3" y="1075.8" width="10.4" height="10.4" fill="#f23c3c" stroke="#ee2020" stroke-width="0.8"/><circle cx="205.0" cy="815.4" r="6.2" fill="#555555" stroke="#262626" stroke-width="1.2"/><circle cx="321.8" cy="1136.2" r="6.2" fill="#555555" stroke="#262626" stroke-width="1.2"/><circle cx="438.3" cy="1193.3" r="6.2" fill="#555555" stroke="#262626" stroke-width="1.2"/><circle cx="554.8" cy="1074.0" r="6.2" fill="#555555" stroke="#262626" stroke-width="1.2"/><circle cx="671.5" cy="984.2" r="6.2" fill="#555555" stroke="#262626" stroke-width="1.2"/><line x1="1123.2" y1="856.8" x2="1224.6" y2="882.4" stroke="#ff0000" stroke-width="2.0"/><line x1="1239.5" y1="885.4" x2="1341.4" y2="901.0" stroke="#ff0000" stroke-width="2.0"/><line x1="1356.5" y1="902.3" x2="1457.6" y2="904.2" stroke="#ff0000" stroke-width="2.0"/><line x1="1472.7" y1="905.7" x2="1574.4" y2="923.1" stroke="#ff0000" stroke-width="2.0"/><line x1="1124.3" y1="1135.0" x2="1224.1" y2="1111.1" stroke="#111" stroke-width="1.7"/><line x1="1240.9" y1="1107.0" x2="1340.5" y2="1082.6" stroke="#111" stroke-width="1.7"/><line x1="1357.1" y1="1078.0" x2="1457.0" y2="1048.2" stroke="#111" stroke-width="1.7"/><line x1="1473.6" y1="1043.7" x2="1573.5" y2="1019.3" stroke="#111" stroke-width="1.7"/><g stroke="#ff4a4a" stroke-width="1.1" fill="none"><line x1="1115.8" y1="837.3" x2="1115.8" y2="884.5"/><line x1="1110.3" y1="837.3" x2="1121.3" y2="837.3"/><line x1="1110.3" y1="884.5" x2="1121.3" y2="884.5"/></g><rect x="1110.6" y="849.7" width="10.4" height="10.4" fill="#f23c3c" stroke="#ee2020" stroke-width="0.8"/><g stroke="#ff4a4a" stroke-width="1.1" fill="none"><line x1="1232.0" y1="861.1" x2="1232.0" y2="906.4"/><line x1="1226.5" y1="861.1" x2="1237.5" y2="861.1"/><line x1="1226.5" y1="906.4" x2="1237.5" y2="906.4"/></g><rect x="1226.8" y="879.1" width="10.4" height="10.4" fill="#f23c3c" stroke="#ee2020" stroke-width="0.8"/><g stroke="#ff4a4a" stroke-width="1.1" fill="none"><line x1="1348.9" y1="881.8" x2="1348.9" y2="923.0"/><line x1="1343.4" y1="881.8" x2="1354.4" y2="881.8"/><line x1="1343.4" y1="923.0" x2="1354.4" y2="923.0"/></g><rect x="1343.7" y="896.9" width="10.4" height="10.4" fill="#f23c3c" stroke="#ee2020" stroke-width="0.8"/><g stroke="#ff4a4a" stroke-width="1.1" fill="none"><line x1="1465.2" y1="881.2" x2="1465.2" y2="926.7"/><line x1="1459.7" y1="881.2" x2="1470.7" y2="881.2"/><line x1="1459.7" y1="926.7" x2="1470.7" y2="926.7"/></g><rect x="1460.0" y="899.2" width="10.4" height="10.4" fill="#f23c3c" stroke="#ee2020" stroke-width="0.8"/><g stroke="#ff4a4a" stroke-width="1.1" fill="none"><line x1="1581.9" y1="896.9" x2="1581.9" y2="950.8"/><line x1="1576.4" y1="896.9" x2="1587.4" y2="896.9"/><line x1="1576.4" y1="950.8" x2="1587.4" y2="950.8"/></g><rect x="1576.7" y="919.2" width="10.4" height="10.4" fill="#f23c3c" stroke="#ee2020" stroke-width="0.8"/><circle cx="1115.9" cy="1137.0" r="6.2" fill="#555555" stroke="#262626" stroke-width="1.2"/><circle cx="1232.5" cy="1109.1" r="6.2" fill="#555555" stroke="#262626" stroke-width="1.2"/><circle cx="1348.9" cy="1080.5" r="6.2" fill="#555555" stroke="#262626" stroke-width="1.2"/><circle cx="1465.2" cy="1045.7" r="6.2" fill="#555555" stroke="#262626" stroke-width="1.2"/><circle cx="1581.9" cy="1017.3" r="6.2" fill="#555555" stroke="#262626" stroke-width="1.2"/><text transform="translate(385.0,137.0) scale(1,1.080)" font-family="'Liberation Serif','Times New Roman',serif" font-size="26.5" fill="#ff0000" text-anchor="start">36.59<tspan dx="1.8" font-size="31">±</tspan><tspan dx="1.8">1.22</tspan></text><text transform="translate(374.4,408.9) scale(1,1.080)" font-family="'Liberation Serif','Times New Roman',serif" font-size="26.2" fill="#111" text-anchor="start">17.1</text><text transform="translate(1293.8,96.0) scale(1,1.080)" font-family="'Liberation Serif','Times New Roman',serif" font-size="26.5" fill="#ff0000" text-anchor="start">38.42<tspan dx="1.8" font-size="31">±</tspan><tspan dx="1.8">1.05</tspan></text><text transform="translate(1471.0,433.2) scale(1,1.080)" font-family="'Liberation Serif','Times New Roman',serif" font-size="26.2" fill="#111" text-anchor="start">16.0</text><text transform="translate(405.0,774.3) scale(1,1.080)" font-family="'Liberation Serif','Times New Roman',serif" font-size="26.5" fill="#ff0000" text-anchor="start">44.98<tspan dx="1.8" font-size="31">±</tspan><tspan dx="1.8">1.86</tspan></text><text transform="translate(423.8,1226.6) scale(1,1.080)" font-family="'Liberation Serif','Times New Roman',serif" font-size="26.2" fill="#111" text-anchor="start">11.7</text><text transform="translate(1024.0,937.1) scale(1,1.080)" font-family="'Liberation Serif','Times New Roman',serif" font-size="26.5" fill="#ff0000" text-anchor="start">44.98<tspan dx="1.8" font-size="31">±</tspan><tspan dx="1.8">1.86</tspan></text><text transform="translate(1061.9,1189.0) scale(1,1.080)" font-family="'Liberation Serif','Times New Roman',serif" font-size="26.2" fill="#111" text-anchor="start">11.7</text>
</svg></body></html>
